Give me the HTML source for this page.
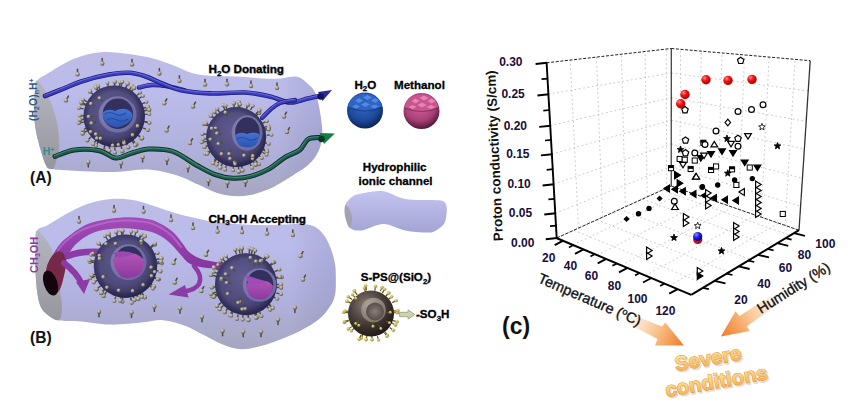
<!DOCTYPE html>
<html><head><meta charset="utf-8"><style>
html,body{margin:0;padding:0;background:#fff;width:852px;height:414px;overflow:hidden}
svg{display:block}
</style></head><body>
<svg width="852" height="414" viewBox="0 0 852 414">
<rect width="852" height="414" fill="#fff"/>
<defs>
 <linearGradient id="tubeG" x1="0" y1="50" x2="0" y2="196" gradientUnits="userSpaceOnUse">
  <stop offset="0" stop-color="#bcbce6"/>
  <stop offset="0.3" stop-color="#bcbcec"/>
  <stop offset="0.7" stop-color="#b0b0dc"/>
  <stop offset="1" stop-color="#a6a6c0"/>
 </linearGradient>
 <linearGradient id="tubeG2" x1="0" y1="198" x2="0" y2="350" gradientUnits="userSpaceOnUse">
  <stop offset="0" stop-color="#bcbce6"/>
  <stop offset="0.3" stop-color="#bcbcec"/>
  <stop offset="0.7" stop-color="#b0b0dc"/>
  <stop offset="1" stop-color="#a6a6c0"/>
 </linearGradient>
 <linearGradient id="tubeShade" x1="0" y1="0" x2="1" y2="0">
  <stop offset="0" stop-color="#000" stop-opacity="0"/>
  <stop offset="0.85" stop-color="#000" stop-opacity="0"/>
  <stop offset="1" stop-color="#404070" stop-opacity="0.12"/>
 </linearGradient>
 <linearGradient id="tubeShade2" x1="0" y1="0" x2="1" y2="0">
  <stop offset="0" stop-color="#000" stop-opacity="0"/>
  <stop offset="0.85" stop-color="#000" stop-opacity="0"/>
  <stop offset="1" stop-color="#404070" stop-opacity="0.12"/>
 </linearGradient>
 <linearGradient id="capG" x1="0" y1="0" x2="0" y2="1">
  <stop offset="0" stop-color="#b6b6c2"/>
  <stop offset="1" stop-color="#96969e"/>
 </linearGradient>
 <radialGradient id="sphG" cx="0.45" cy="0.4" r="0.62">
  <stop offset="0" stop-color="#625c8e"/>
  <stop offset="0.65" stop-color="#4e4a7c"/>
  <stop offset="1" stop-color="#2e2a54"/>
 </radialGradient>
 <radialGradient id="sphRim" cx="0.5" cy="0.5" r="0.5">
  <stop offset="0.8" stop-color="#000" stop-opacity="0"/>
  <stop offset="1" stop-color="#1a1840" stop-opacity="0.35"/>
 </radialGradient>
 <radialGradient id="holeRim" cx="0.4" cy="0.45" r="0.6">
  <stop offset="0" stop-color="#9894c2"/>
  <stop offset="1" stop-color="#6a66a0"/>
 </radialGradient>
 <linearGradient id="waterG" x1="0" y1="0" x2="0" y2="1">
  <stop offset="0" stop-color="#4474d4"/>
  <stop offset="1" stop-color="#2c52b0"/>
 </linearGradient>
 <linearGradient id="methG" x1="0" y1="0" x2="0" y2="1">
  <stop offset="0" stop-color="#b454b8"/>
  <stop offset="1" stop-color="#8a3a9c"/>
 </linearGradient>
 <linearGradient id="purpG" x1="0" y1="0" x2="0" y2="1">
  <stop offset="0" stop-color="#a24cb8"/>
  <stop offset="1" stop-color="#7a2c94"/>
 </linearGradient>
 <radialGradient id="spsG" cx="0.4" cy="0.32" r="0.72">
  <stop offset="0" stop-color="#8a7e78"/>
  <stop offset="0.5" stop-color="#4a403c"/>
  <stop offset="1" stop-color="#1c1614"/>
 </radialGradient>
 <radialGradient id="spsHole" cx="0.35" cy="0.3" r="0.8">
  <stop offset="0" stop-color="#b0a69e"/>
  <stop offset="1" stop-color="#7a6e66"/>
 </radialGradient>
 <radialGradient id="spsIn" cx="0.5" cy="0.5" r="0.6">
  <stop offset="0" stop-color="#8a7e76"/>
  <stop offset="1" stop-color="#4e443e"/>
 </radialGradient>
 <radialGradient id="blueBall" cx="0.45" cy="0.35" r="0.7">
  <stop offset="0" stop-color="#3468c8"/>
  <stop offset="0.6" stop-color="#1e4a9c"/>
  <stop offset="1" stop-color="#081c48"/>
 </radialGradient>
 <radialGradient id="pinkBall" cx="0.45" cy="0.35" r="0.7">
  <stop offset="0" stop-color="#d8609a"/>
  <stop offset="0.6" stop-color="#a84078"/>
  <stop offset="1" stop-color="#3e0e26"/>
 </radialGradient>
 <radialGradient id="nubG" cx="0.35" cy="0.3" r="0.7">
  <stop offset="0" stop-color="#d6d2c4"/>
  <stop offset="0.5" stop-color="#a8a290"/>
  <stop offset="1" stop-color="#545044"/>
 </radialGradient>
 <radialGradient id="ynubG" cx="0.35" cy="0.3" r="0.7">
  <stop offset="0" stop-color="#f4ec98"/>
  <stop offset="1" stop-color="#9a8a30"/>
 </radialGradient>
 <radialGradient id="redG" cx="0.35" cy="0.3" r="0.7">
  <stop offset="0" stop-color="#ff8a8a"/>
  <stop offset="0.45" stop-color="#f01414"/>
  <stop offset="1" stop-color="#b00000"/>
 </radialGradient>
 <radialGradient id="bluG" cx="0.35" cy="0.3" r="0.7">
  <stop offset="0" stop-color="#8a8aff"/>
  <stop offset="0.5" stop-color="#1c1ce8"/>
  <stop offset="1" stop-color="#0000a0"/>
 </radialGradient>
 <linearGradient id="orG1" x1="630" y1="318" x2="684" y2="345" gradientUnits="userSpaceOnUse">
  <stop offset="0" stop-color="#fff6ee"/>
  <stop offset="0.45" stop-color="#f9c898"/>
  <stop offset="1" stop-color="#f07c24"/>
 </linearGradient>
 <linearGradient id="orG2" x1="775" y1="300" x2="721" y2="336" gradientUnits="userSpaceOnUse">
  <stop offset="0" stop-color="#fff6ee"/>
  <stop offset="0.45" stop-color="#f9c898"/>
  <stop offset="1" stop-color="#f07c24"/>
 </linearGradient>
 <linearGradient id="sevG" x1="0" y1="0" x2="0" y2="1">
  <stop offset="0" stop-color="#fff0b4"/>
  <stop offset="0.5" stop-color="#fbcf78"/>
  <stop offset="1" stop-color="#f2a648"/>
 </linearGradient>
 <linearGradient id="miniG" x1="0" y1="190" x2="0" y2="233" gradientUnits="userSpaceOnUse">
  <stop offset="0" stop-color="#c4c4f0"/>
  <stop offset="1" stop-color="#a4a4d4"/>
 </linearGradient>
</defs>

<path d="M37.0,80.5 C39.1,77.8 42.9,76.4 47.6,73.5 C52.3,70.6 59.3,65.8 65.2,62.9 C71.1,59.9 76.9,57.6 82.8,55.8 C88.7,54.0 94.5,52.8 100.4,52.3 C106.3,51.8 112.1,52.2 118.0,52.7 C123.9,53.2 129.7,54.0 135.6,55.0 C141.5,56.0 146.6,56.7 153.2,58.5 C159.8,60.3 168.4,63.5 175.0,66.0 C181.6,68.5 186.7,71.6 192.6,73.2 C198.5,74.8 204.3,75.3 210.2,75.8 C216.1,76.3 221.9,76.1 227.8,76.3 C233.7,76.5 239.5,76.6 245.4,77.0 C251.3,77.4 257.1,78.2 263.0,78.5 C268.9,78.8 274.9,78.8 280.6,78.5 C286.3,78.2 292.6,75.9 297.2,76.8 C301.8,77.7 305.0,81.3 308.0,84.0 C311.0,86.7 313.4,88.5 315.4,93.0 C317.4,97.5 318.8,105.0 319.9,111.2 C321.0,117.4 322.0,124.9 322.2,130.0 C322.4,135.1 321.9,138.6 321.3,142.0 C320.7,145.4 320.1,147.6 318.8,150.4 C317.5,153.2 315.9,156.1 313.7,158.9 C311.4,161.7 308.4,164.8 305.3,167.3 C302.2,169.8 298.3,171.9 295.0,174.0 C291.7,176.1 290.1,177.4 285.6,180.0 C281.1,182.6 273.9,187.1 268.0,189.6 C262.1,192.1 256.3,193.8 250.4,194.9 C244.5,196.0 238.7,196.5 232.8,196.1 C226.9,195.7 221.1,194.3 215.2,192.3 C209.3,190.3 203.5,187.0 197.6,184.3 C191.7,181.7 188.2,178.9 180.0,176.4 C171.8,173.9 159.3,170.3 148.6,169.6 C137.9,168.9 126.7,171.7 115.7,172.0 C104.8,172.3 93.5,171.7 82.9,171.2 C72.3,170.7 58.3,170.2 52.0,169.0 C45.7,167.8 47.9,169.7 45.3,163.8 C42.7,157.9 38.3,142.4 36.4,133.4 C34.5,124.4 34.2,117.2 34.0,110.0 C33.8,102.8 34.5,94.9 35.0,90.0 C35.5,85.1 34.9,83.2 37.0,80.5Z" fill="url(#tubeG)"/>
<path d="M37.0,80.5 C39.1,77.8 42.9,76.4 47.6,73.5 C52.3,70.6 59.3,65.8 65.2,62.9 C71.1,59.9 76.9,57.6 82.8,55.8 C88.7,54.0 94.5,52.8 100.4,52.3 C106.3,51.8 112.1,52.2 118.0,52.7 C123.9,53.2 129.7,54.0 135.6,55.0 C141.5,56.0 146.6,56.7 153.2,58.5 C159.8,60.3 168.4,63.5 175.0,66.0 C181.6,68.5 186.7,71.6 192.6,73.2 C198.5,74.8 204.3,75.3 210.2,75.8 C216.1,76.3 221.9,76.1 227.8,76.3 C233.7,76.5 239.5,76.6 245.4,77.0 C251.3,77.4 257.1,78.2 263.0,78.5 C268.9,78.8 274.9,78.8 280.6,78.5 C286.3,78.2 292.6,75.9 297.2,76.8 C301.8,77.7 305.0,81.3 308.0,84.0 C311.0,86.7 313.4,88.5 315.4,93.0 C317.4,97.5 318.8,105.0 319.9,111.2 C321.0,117.4 322.0,124.9 322.2,130.0 C322.4,135.1 321.9,138.6 321.3,142.0 C320.7,145.4 320.1,147.6 318.8,150.4 C317.5,153.2 315.9,156.1 313.7,158.9 C311.4,161.7 308.4,164.8 305.3,167.3 C302.2,169.8 298.3,171.9 295.0,174.0 C291.7,176.1 290.1,177.4 285.6,180.0 C281.1,182.6 273.9,187.1 268.0,189.6 C262.1,192.1 256.3,193.8 250.4,194.9 C244.5,196.0 238.7,196.5 232.8,196.1 C226.9,195.7 221.1,194.3 215.2,192.3 C209.3,190.3 203.5,187.0 197.6,184.3 C191.7,181.7 188.2,178.9 180.0,176.4 C171.8,173.9 159.3,170.3 148.6,169.6 C137.9,168.9 126.7,171.7 115.7,172.0 C104.8,172.3 93.5,171.7 82.9,171.2 C72.3,170.7 58.3,170.2 52.0,169.0 C45.7,167.8 47.9,169.7 45.3,163.8 C42.7,157.9 38.3,142.4 36.4,133.4 C34.5,124.4 34.2,117.2 34.0,110.0 C33.8,102.8 34.5,94.9 35.0,90.0 C35.5,85.1 34.9,83.2 37.0,80.5Z" fill="url(#tubeShade)"/>
<path d="M37.0,80.5 C39.1,81.4 44.5,88.7 47.8,95.4 C51.1,102.1 54.8,112.3 56.7,120.7 C58.6,129.1 59.4,138.8 59.2,146.0 C59.0,153.2 56.6,160.0 55.4,163.8 C54.2,167.6 53.7,169.0 52.0,169.0 C50.3,169.0 47.9,169.7 45.3,163.8 C42.7,157.9 38.3,142.4 36.4,133.4 C34.5,124.4 34.2,117.2 34.0,110.0 C33.8,102.8 34.5,94.9 35.0,90.0 C35.5,85.1 34.9,79.6 37.0,80.5Z" fill="url(#capG)"/>
<path d="M37.0,230.5 C39.0,226.9 42.9,227.8 47.6,225.2 C52.3,222.5 59.3,217.8 65.2,214.6 C71.1,211.4 76.9,208.1 82.8,205.8 C88.7,203.5 94.5,201.8 100.4,200.6 C106.3,199.4 112.1,198.8 118.0,198.8 C123.9,198.8 129.7,199.4 135.6,200.6 C141.5,201.8 146.6,203.7 153.2,205.8 C159.8,207.9 168.0,211.0 175.0,213.0 C182.0,215.0 188.3,216.5 195.0,218.0 C201.7,219.5 208.3,221.0 215.0,222.0 C221.7,223.0 228.4,223.5 235.0,224.0 C241.6,224.5 248.2,224.8 254.8,225.0 C261.4,225.2 268.1,225.2 274.8,225.0 C281.5,224.8 288.9,224.0 294.8,224.0 C300.7,224.0 306.0,224.2 310.0,225.1 C314.0,226.0 316.1,227.3 318.8,229.5 C321.5,231.7 323.9,234.8 326.0,238.2 C328.1,241.6 329.7,245.7 331.2,249.8 C332.7,253.9 334.0,258.4 334.8,262.8 C335.6,267.2 335.8,270.6 335.8,276.0 C335.8,281.4 336.1,289.7 335.0,295.0 C333.9,300.3 331.8,303.8 329.0,308.0 C326.2,312.2 323.2,316.0 318.0,320.0 C312.8,324.0 304.5,328.7 298.0,332.0 C291.5,335.3 285.3,337.6 279.0,340.0 C272.7,342.4 266.3,344.8 260.0,346.3 C253.7,347.8 247.5,349.5 241.3,349.2 C235.1,348.9 228.8,346.9 222.6,344.5 C216.3,342.1 210.1,338.1 203.8,335.0 C197.5,331.9 191.8,328.2 185.0,325.7 C178.2,323.2 169.8,320.8 163.2,320.2 C156.6,319.6 151.5,321.4 145.6,322.0 C139.7,322.6 133.9,323.4 128.0,323.8 C122.1,324.2 116.3,324.8 110.4,324.6 C104.5,324.5 98.7,323.5 92.8,322.9 C86.9,322.3 81.1,321.6 75.2,321.1 C69.3,320.7 62.0,321.1 57.6,320.2 C53.2,319.3 51.7,318.3 48.8,315.8 C45.9,313.3 42.1,311.0 40.0,305.0 C37.9,299.0 36.7,289.7 36.0,280.0 C35.3,270.3 35.4,254.8 35.6,246.6 C35.8,238.3 35.0,234.1 37.0,230.5Z" fill="url(#tubeG2)"/>
<path d="M37.0,230.5 C39.0,226.9 42.9,227.8 47.6,225.2 C52.3,222.5 59.3,217.8 65.2,214.6 C71.1,211.4 76.9,208.1 82.8,205.8 C88.7,203.5 94.5,201.8 100.4,200.6 C106.3,199.4 112.1,198.8 118.0,198.8 C123.9,198.8 129.7,199.4 135.6,200.6 C141.5,201.8 146.6,203.7 153.2,205.8 C159.8,207.9 168.0,211.0 175.0,213.0 C182.0,215.0 188.3,216.5 195.0,218.0 C201.7,219.5 208.3,221.0 215.0,222.0 C221.7,223.0 228.4,223.5 235.0,224.0 C241.6,224.5 248.2,224.8 254.8,225.0 C261.4,225.2 268.1,225.2 274.8,225.0 C281.5,224.8 288.9,224.0 294.8,224.0 C300.7,224.0 306.0,224.2 310.0,225.1 C314.0,226.0 316.1,227.3 318.8,229.5 C321.5,231.7 323.9,234.8 326.0,238.2 C328.1,241.6 329.7,245.7 331.2,249.8 C332.7,253.9 334.0,258.4 334.8,262.8 C335.6,267.2 335.8,270.6 335.8,276.0 C335.8,281.4 336.1,289.7 335.0,295.0 C333.9,300.3 331.8,303.8 329.0,308.0 C326.2,312.2 323.2,316.0 318.0,320.0 C312.8,324.0 304.5,328.7 298.0,332.0 C291.5,335.3 285.3,337.6 279.0,340.0 C272.7,342.4 266.3,344.8 260.0,346.3 C253.7,347.8 247.5,349.5 241.3,349.2 C235.1,348.9 228.8,346.9 222.6,344.5 C216.3,342.1 210.1,338.1 203.8,335.0 C197.5,331.9 191.8,328.2 185.0,325.7 C178.2,323.2 169.8,320.8 163.2,320.2 C156.6,319.6 151.5,321.4 145.6,322.0 C139.7,322.6 133.9,323.4 128.0,323.8 C122.1,324.2 116.3,324.8 110.4,324.6 C104.5,324.5 98.7,323.5 92.8,322.9 C86.9,322.3 81.1,321.6 75.2,321.1 C69.3,320.7 62.0,321.1 57.6,320.2 C53.2,319.3 51.7,318.3 48.8,315.8 C45.9,313.3 42.1,311.0 40.0,305.0 C37.9,299.0 36.7,289.7 36.0,280.0 C35.3,270.3 35.4,254.8 35.6,246.6 C35.8,238.3 35.0,234.1 37.0,230.5Z" fill="url(#tubeShade2)"/>
<path d="M37.0,230.5 C39.2,230.1 45.7,238.2 49.0,244.0 C52.3,249.8 55.2,257.3 57.0,265.0 C58.8,272.7 59.2,282.5 60.0,290.0 C60.8,297.5 62.2,305.0 62.0,310.0 C61.8,315.0 60.7,319.0 58.5,320.0 C56.3,321.0 51.9,318.3 48.8,315.8 C45.7,313.3 42.1,311.0 40.0,305.0 C37.9,299.0 36.7,289.7 36.0,280.0 C35.3,270.3 35.4,254.8 35.6,246.6 C35.8,238.3 34.8,230.9 37.0,230.5Z" fill="url(#capG)"/>
<path d="M345.5,205.0 C346.5,201.5 349.3,198.9 352.0,197.0 C354.7,195.1 356.4,194.4 361.7,193.5 C366.9,192.6 376.3,190.4 383.5,191.3 C390.7,192.2 397.1,197.6 405.0,199.0 C412.9,200.4 424.7,199.7 431.0,200.0 C437.3,200.3 440.4,200.0 443.0,201.0 C445.6,202.0 445.9,203.8 446.5,206.0 C447.1,208.2 446.9,211.0 446.5,214.0 C446.1,217.0 445.9,221.2 444.0,224.0 C442.1,226.8 437.8,229.6 435.0,231.0 C432.2,232.4 432.0,232.7 427.0,232.6 C422.0,232.5 412.2,231.8 405.0,230.4 C397.8,229.0 390.7,224.0 383.5,224.0 C376.3,224.0 367.3,229.7 361.7,230.4 C356.1,231.1 352.6,230.1 350.0,228.0 C347.4,225.9 346.8,221.8 346.0,218.0 C345.2,214.2 344.5,208.5 345.5,205.0Z" fill="url(#miniG)"/>
<path d="M345.5,205.0 C346.4,204.7 348.9,207.8 350.0,210.0 C351.1,212.2 352.0,215.0 352.0,218.0 C352.0,221.0 351.0,227.7 350.0,228.0 C349.0,228.3 346.9,222.7 346.0,220.0 C345.1,217.3 344.6,214.5 344.5,212.0 C344.4,209.5 344.6,205.3 345.5,205.0Z" fill="#a2a2b2"/>
<line x1="77.5" y1="74.3" x2="77.5" y2="69.3" stroke="#4e4a3e" stroke-width="1.5" stroke-linecap="round"/><circle cx="77.5" cy="74.3" r="2.2" fill="url(#nubG)"/>
<line x1="102.2" y1="63.5" x2="102.2" y2="58.5" stroke="#4e4a3e" stroke-width="1.5" stroke-linecap="round"/><circle cx="102.2" cy="63.5" r="2.2" fill="url(#nubG)"/>
<line x1="132.0" y1="64.4" x2="132.0" y2="59.4" stroke="#4e4a3e" stroke-width="1.5" stroke-linecap="round"/><circle cx="132.0" cy="64.4" r="2.2" fill="url(#nubG)"/>
<line x1="159.4" y1="73.5" x2="159.4" y2="68.5" stroke="#4e4a3e" stroke-width="1.5" stroke-linecap="round"/><circle cx="159.4" cy="73.5" r="2.2" fill="url(#nubG)"/>
<line x1="179.4" y1="80.8" x2="179.4" y2="75.8" stroke="#4e4a3e" stroke-width="1.5" stroke-linecap="round"/><circle cx="179.4" cy="80.8" r="2.2" fill="url(#nubG)"/>
<line x1="205.0" y1="84.5" x2="205.0" y2="79.5" stroke="#4e4a3e" stroke-width="1.5" stroke-linecap="round"/><circle cx="205.0" cy="84.5" r="2.2" fill="url(#nubG)"/>
<line x1="227.0" y1="84.3" x2="227.0" y2="79.3" stroke="#4e4a3e" stroke-width="1.5" stroke-linecap="round"/><circle cx="227.0" cy="84.3" r="2.2" fill="url(#nubG)"/>
<line x1="251.0" y1="86.0" x2="251.0" y2="81.0" stroke="#4e4a3e" stroke-width="1.5" stroke-linecap="round"/><circle cx="251.0" cy="86.0" r="2.2" fill="url(#nubG)"/>
<line x1="277.0" y1="87.9" x2="277.0" y2="82.9" stroke="#4e4a3e" stroke-width="1.5" stroke-linecap="round"/><circle cx="277.0" cy="87.9" r="2.2" fill="url(#nubG)"/>
<line x1="65.9" y1="100.4" x2="68.4" y2="96.1" stroke="#4e4a3e" stroke-width="1.5" stroke-linecap="round"/><circle cx="65.9" cy="100.4" r="2.2" fill="url(#nubG)"/>
<line x1="164.3" y1="103.3" x2="166.8" y2="99.0" stroke="#4e4a3e" stroke-width="1.5" stroke-linecap="round"/><circle cx="164.3" cy="103.3" r="2.2" fill="url(#nubG)"/>
<line x1="193.0" y1="106.5" x2="195.5" y2="102.2" stroke="#4e4a3e" stroke-width="1.5" stroke-linecap="round"/><circle cx="193.0" cy="106.5" r="2.2" fill="url(#nubG)"/>
<line x1="284.0" y1="116.5" x2="286.5" y2="112.2" stroke="#4e4a3e" stroke-width="1.5" stroke-linecap="round"/><circle cx="284.0" cy="116.5" r="2.2" fill="url(#nubG)"/>
<line x1="287.0" y1="132.0" x2="289.5" y2="127.7" stroke="#4e4a3e" stroke-width="1.5" stroke-linecap="round"/><circle cx="287.0" cy="132.0" r="2.2" fill="url(#nubG)"/>
<line x1="166.6" y1="130.4" x2="169.1" y2="126.1" stroke="#4e4a3e" stroke-width="1.5" stroke-linecap="round"/><circle cx="166.6" cy="130.4" r="2.2" fill="url(#nubG)"/>
<line x1="190.0" y1="143.0" x2="192.5" y2="138.7" stroke="#4e4a3e" stroke-width="1.5" stroke-linecap="round"/><circle cx="190.0" cy="143.0" r="2.2" fill="url(#nubG)"/>
<line x1="88.3" y1="162.0" x2="88.3" y2="167.0" stroke="#4e4a3e" stroke-width="1.5" stroke-linecap="round"/><circle cx="88.3" cy="162.0" r="2.2" fill="url(#nubG)"/>
<line x1="121.0" y1="163.0" x2="121.0" y2="168.0" stroke="#4e4a3e" stroke-width="1.5" stroke-linecap="round"/><circle cx="121.0" cy="163.0" r="2.2" fill="url(#nubG)"/>
<line x1="142.6" y1="157.0" x2="142.6" y2="162.0" stroke="#4e4a3e" stroke-width="1.5" stroke-linecap="round"/><circle cx="142.6" cy="157.0" r="2.2" fill="url(#nubG)"/>
<line x1="167.0" y1="159.5" x2="167.0" y2="164.5" stroke="#4e4a3e" stroke-width="1.5" stroke-linecap="round"/><circle cx="167.0" cy="159.5" r="2.2" fill="url(#nubG)"/>
<line x1="188.0" y1="167.0" x2="188.0" y2="172.0" stroke="#4e4a3e" stroke-width="1.5" stroke-linecap="round"/><circle cx="188.0" cy="167.0" r="2.2" fill="url(#nubG)"/>
<line x1="208.5" y1="180.5" x2="208.5" y2="185.5" stroke="#4e4a3e" stroke-width="1.5" stroke-linecap="round"/><circle cx="208.5" cy="180.5" r="2.2" fill="url(#nubG)"/>
<line x1="227.5" y1="182.5" x2="227.5" y2="187.5" stroke="#4e4a3e" stroke-width="1.5" stroke-linecap="round"/><circle cx="227.5" cy="182.5" r="2.2" fill="url(#nubG)"/>
<line x1="245.5" y1="181.5" x2="245.5" y2="186.5" stroke="#4e4a3e" stroke-width="1.5" stroke-linecap="round"/><circle cx="245.5" cy="181.5" r="2.2" fill="url(#nubG)"/>
<line x1="79.0" y1="221.5" x2="79.0" y2="216.5" stroke="#4e4a3e" stroke-width="1.5" stroke-linecap="round"/><circle cx="79.0" cy="221.5" r="2.2" fill="url(#nubG)"/>
<line x1="114.0" y1="210.5" x2="114.0" y2="205.5" stroke="#4e4a3e" stroke-width="1.5" stroke-linecap="round"/><circle cx="114.0" cy="210.5" r="2.2" fill="url(#nubG)"/>
<line x1="143.5" y1="211.5" x2="143.5" y2="206.5" stroke="#4e4a3e" stroke-width="1.5" stroke-linecap="round"/><circle cx="143.5" cy="211.5" r="2.2" fill="url(#nubG)"/>
<line x1="171.0" y1="220.0" x2="171.0" y2="215.0" stroke="#4e4a3e" stroke-width="1.5" stroke-linecap="round"/><circle cx="171.0" cy="220.0" r="2.2" fill="url(#nubG)"/>
<line x1="193.0" y1="228.0" x2="193.0" y2="223.0" stroke="#4e4a3e" stroke-width="1.5" stroke-linecap="round"/><circle cx="193.0" cy="228.0" r="2.2" fill="url(#nubG)"/>
<line x1="217.5" y1="231.5" x2="217.5" y2="226.5" stroke="#4e4a3e" stroke-width="1.5" stroke-linecap="round"/><circle cx="217.5" cy="231.5" r="2.2" fill="url(#nubG)"/>
<line x1="242.0" y1="232.0" x2="242.0" y2="227.0" stroke="#4e4a3e" stroke-width="1.5" stroke-linecap="round"/><circle cx="242.0" cy="232.0" r="2.2" fill="url(#nubG)"/>
<line x1="267.0" y1="233.5" x2="267.0" y2="228.5" stroke="#4e4a3e" stroke-width="1.5" stroke-linecap="round"/><circle cx="267.0" cy="233.5" r="2.2" fill="url(#nubG)"/>
<line x1="292.8" y1="235.0" x2="292.8" y2="230.0" stroke="#4e4a3e" stroke-width="1.5" stroke-linecap="round"/><circle cx="292.8" cy="235.0" r="2.2" fill="url(#nubG)"/>
<line x1="206.0" y1="254.7" x2="208.5" y2="250.4" stroke="#4e4a3e" stroke-width="1.5" stroke-linecap="round"/><circle cx="206.0" cy="254.7" r="2.2" fill="url(#nubG)"/>
<line x1="173.5" y1="263.0" x2="176.0" y2="258.7" stroke="#4e4a3e" stroke-width="1.5" stroke-linecap="round"/><circle cx="173.5" cy="263.0" r="2.2" fill="url(#nubG)"/>
<line x1="174.7" y1="282.5" x2="177.2" y2="278.2" stroke="#4e4a3e" stroke-width="1.5" stroke-linecap="round"/><circle cx="174.7" cy="282.5" r="2.2" fill="url(#nubG)"/>
<line x1="201.3" y1="291.0" x2="203.8" y2="286.7" stroke="#4e4a3e" stroke-width="1.5" stroke-linecap="round"/><circle cx="201.3" cy="291.0" r="2.2" fill="url(#nubG)"/>
<line x1="300.5" y1="256.0" x2="303.0" y2="251.7" stroke="#4e4a3e" stroke-width="1.5" stroke-linecap="round"/><circle cx="300.5" cy="256.0" r="2.2" fill="url(#nubG)"/>
<line x1="303.0" y1="279.5" x2="305.5" y2="275.2" stroke="#4e4a3e" stroke-width="1.5" stroke-linecap="round"/><circle cx="303.0" cy="279.5" r="2.2" fill="url(#nubG)"/>
<line x1="99.0" y1="311.7" x2="99.0" y2="316.7" stroke="#4e4a3e" stroke-width="1.5" stroke-linecap="round"/><circle cx="99.0" cy="311.7" r="2.2" fill="url(#nubG)"/>
<line x1="131.5" y1="312.5" x2="131.5" y2="317.5" stroke="#4e4a3e" stroke-width="1.5" stroke-linecap="round"/><circle cx="131.5" cy="312.5" r="2.2" fill="url(#nubG)"/>
<line x1="154.4" y1="306.5" x2="154.4" y2="311.5" stroke="#4e4a3e" stroke-width="1.5" stroke-linecap="round"/><circle cx="154.4" cy="306.5" r="2.2" fill="url(#nubG)"/>
<line x1="180.0" y1="308.2" x2="180.0" y2="313.2" stroke="#4e4a3e" stroke-width="1.5" stroke-linecap="round"/><circle cx="180.0" cy="308.2" r="2.2" fill="url(#nubG)"/>
<line x1="202.0" y1="316.7" x2="202.0" y2="321.7" stroke="#4e4a3e" stroke-width="1.5" stroke-linecap="round"/><circle cx="202.0" cy="316.7" r="2.2" fill="url(#nubG)"/>
<line x1="222.6" y1="330.8" x2="222.6" y2="335.8" stroke="#4e4a3e" stroke-width="1.5" stroke-linecap="round"/><circle cx="222.6" cy="330.8" r="2.2" fill="url(#nubG)"/>
<line x1="243.2" y1="331.7" x2="243.2" y2="336.7" stroke="#4e4a3e" stroke-width="1.5" stroke-linecap="round"/><circle cx="243.2" cy="331.7" r="2.2" fill="url(#nubG)"/>
<line x1="261.0" y1="331.7" x2="261.0" y2="336.7" stroke="#4e4a3e" stroke-width="1.5" stroke-linecap="round"/><circle cx="261.0" cy="331.7" r="2.2" fill="url(#nubG)"/>
<line x1="278.0" y1="319.5" x2="278.0" y2="324.5" stroke="#4e4a3e" stroke-width="1.5" stroke-linecap="round"/><circle cx="278.0" cy="319.5" r="2.2" fill="url(#nubG)"/>
<line x1="294.9" y1="307.5" x2="294.9" y2="312.5" stroke="#4e4a3e" stroke-width="1.5" stroke-linecap="round"/><circle cx="294.9" cy="307.5" r="2.2" fill="url(#nubG)"/>
<path d="M139.0,87.5 C141.2,87.1 147.5,85.2 152.0,85.0 C156.5,84.8 160.5,85.1 166.0,86.0 C171.5,86.9 181.8,89.8 185.0,90.5" fill="none" stroke="#1e1e78" stroke-width="4.6" stroke-linecap="round" stroke-linejoin="round"/><path d="M139.0,87.5 C141.2,87.1 147.5,85.2 152.0,85.0 C156.5,84.8 160.5,85.1 166.0,86.0 C171.5,86.9 181.8,89.8 185.0,90.5" fill="none" stroke="#3c3cc0" stroke-width="2.9" stroke-linecap="round"/><path d="M139.0,87.5 C141.2,87.1 147.5,85.2 152.0,85.0 C156.5,84.8 160.5,85.1 166.0,86.0 C171.5,86.9 181.8,89.8 185.0,90.5" fill="none" stroke="#6a6ae6" stroke-width="1.0" stroke-linecap="round" transform="translate(-0.4,-0.9)"/>
<path d="M45.0,96.0 C47.5,95.0 53.7,92.5 60.0,90.0 C66.3,87.5 74.8,83.6 83.0,81.0 C91.2,78.4 101.4,76.0 109.0,74.6 C116.6,73.2 122.7,72.6 128.6,72.8 C134.5,73.0 138.8,74.2 144.4,76.0 C150.0,77.8 156.1,81.2 162.0,83.5 C167.9,85.8 172.0,88.3 180.0,90.0 C188.0,91.7 199.2,93.0 210.0,93.4 C220.8,93.8 235.0,92.0 245.0,92.5 C255.0,93.0 262.5,94.8 270.0,96.5 C277.5,98.2 283.7,102.2 290.0,102.5 C296.3,102.8 302.8,99.6 308.0,98.5 C313.2,97.4 318.8,96.2 321.0,95.8" fill="none" stroke="#1e1e78" stroke-width="4.6" stroke-linecap="round" stroke-linejoin="round"/><path d="M45.0,96.0 C47.5,95.0 53.7,92.5 60.0,90.0 C66.3,87.5 74.8,83.6 83.0,81.0 C91.2,78.4 101.4,76.0 109.0,74.6 C116.6,73.2 122.7,72.6 128.6,72.8 C134.5,73.0 138.8,74.2 144.4,76.0 C150.0,77.8 156.1,81.2 162.0,83.5 C167.9,85.8 172.0,88.3 180.0,90.0 C188.0,91.7 199.2,93.0 210.0,93.4 C220.8,93.8 235.0,92.0 245.0,92.5 C255.0,93.0 262.5,94.8 270.0,96.5 C277.5,98.2 283.7,102.2 290.0,102.5 C296.3,102.8 302.8,99.6 308.0,98.5 C313.2,97.4 318.8,96.2 321.0,95.8" fill="none" stroke="#3c3cc0" stroke-width="2.9" stroke-linecap="round"/><path d="M45.0,96.0 C47.5,95.0 53.7,92.5 60.0,90.0 C66.3,87.5 74.8,83.6 83.0,81.0 C91.2,78.4 101.4,76.0 109.0,74.6 C116.6,73.2 122.7,72.6 128.6,72.8 C134.5,73.0 138.8,74.2 144.4,76.0 C150.0,77.8 156.1,81.2 162.0,83.5 C167.9,85.8 172.0,88.3 180.0,90.0 C188.0,91.7 199.2,93.0 210.0,93.4 C220.8,93.8 235.0,92.0 245.0,92.5 C255.0,93.0 262.5,94.8 270.0,96.5 C277.5,98.2 283.7,102.2 290.0,102.5 C296.3,102.8 302.8,99.6 308.0,98.5 C313.2,97.4 318.8,96.2 321.0,95.8" fill="none" stroke="#6a6ae6" stroke-width="1.0" stroke-linecap="round" transform="translate(-0.4,-0.9)"/>
<line x1="149.3" y1="114.1" x2="144.7" y2="114.4" stroke="#4e4a3e" stroke-width="1.4" stroke-linecap="round"/><circle cx="149.3" cy="114.1" r="2.0" fill="url(#nubG)"/>
<line x1="149.0" y1="122.4" x2="144.8" y2="121.7" stroke="#4e4a3e" stroke-width="1.3" stroke-linecap="round"/><circle cx="149.0" cy="122.4" r="1.9" fill="url(#nubG)"/>
<line x1="149.5" y1="122.8" x2="145.1" y2="122.0" stroke="#4e4a3e" stroke-width="1.4" stroke-linecap="round"/><circle cx="149.5" cy="122.8" r="2.0" fill="url(#nubG)"/>
<line x1="147.8" y1="129.9" x2="143.5" y2="128.2" stroke="#4e4a3e" stroke-width="1.4" stroke-linecap="round"/><circle cx="147.8" cy="129.9" r="2.1" fill="url(#nubG)"/>
<line x1="141.4" y1="138.3" x2="137.6" y2="135.2" stroke="#4e4a3e" stroke-width="1.5" stroke-linecap="round"/><circle cx="141.4" cy="138.3" r="2.2" fill="url(#nubG)"/>
<line x1="142.1" y1="138.1" x2="138.0" y2="135.0" stroke="#4e4a3e" stroke-width="1.5" stroke-linecap="round"/><circle cx="142.1" cy="138.1" r="2.3" fill="url(#nubG)"/>
<line x1="136.3" y1="144.3" x2="133.2" y2="140.4" stroke="#4e4a3e" stroke-width="1.5" stroke-linecap="round"/><circle cx="136.3" cy="144.3" r="2.2" fill="url(#nubG)"/>
<line x1="135.2" y1="145.2" x2="132.3" y2="141.3" stroke="#4e4a3e" stroke-width="1.5" stroke-linecap="round"/><circle cx="135.2" cy="145.2" r="2.1" fill="url(#nubG)"/>
<line x1="128.1" y1="147.2" x2="126.0" y2="142.5" stroke="#4e4a3e" stroke-width="1.5" stroke-linecap="round"/><circle cx="128.1" cy="147.2" r="2.3" fill="url(#nubG)"/>
<line x1="122.3" y1="151.0" x2="121.2" y2="146.0" stroke="#4e4a3e" stroke-width="1.5" stroke-linecap="round"/><circle cx="122.3" cy="151.0" r="2.3" fill="url(#nubG)"/>
<line x1="115.0" y1="152.4" x2="114.9" y2="147.7" stroke="#4e4a3e" stroke-width="1.4" stroke-linecap="round"/><circle cx="115.0" cy="152.4" r="2.0" fill="url(#nubG)"/>
<line x1="109.1" y1="150.8" x2="109.8" y2="145.7" stroke="#4e4a3e" stroke-width="1.6" stroke-linecap="round"/><circle cx="109.1" cy="150.8" r="2.3" fill="url(#nubG)"/>
<line x1="103.6" y1="148.7" x2="105.0" y2="144.5" stroke="#4e4a3e" stroke-width="1.3" stroke-linecap="round"/><circle cx="103.6" cy="148.7" r="1.9" fill="url(#nubG)"/>
<line x1="103.3" y1="150.8" x2="104.7" y2="146.4" stroke="#4e4a3e" stroke-width="1.4" stroke-linecap="round"/><circle cx="103.3" cy="150.8" r="2.1" fill="url(#nubG)"/>
<line x1="96.0" y1="145.7" x2="98.5" y2="141.6" stroke="#4e4a3e" stroke-width="1.4" stroke-linecap="round"/><circle cx="96.0" cy="145.7" r="2.1" fill="url(#nubG)"/>
<line x1="93.3" y1="144.0" x2="96.2" y2="140.1" stroke="#4e4a3e" stroke-width="1.5" stroke-linecap="round"/><circle cx="93.3" cy="144.0" r="2.1" fill="url(#nubG)"/>
<line x1="87.3" y1="140.3" x2="91.0" y2="137.0" stroke="#4e4a3e" stroke-width="1.5" stroke-linecap="round"/><circle cx="87.3" cy="140.3" r="2.2" fill="url(#nubG)"/>
<line x1="82.6" y1="133.4" x2="87.2" y2="130.9" stroke="#4e4a3e" stroke-width="1.6" stroke-linecap="round"/><circle cx="82.6" cy="133.4" r="2.3" fill="url(#nubG)"/>
<line x1="82.8" y1="129.9" x2="87.5" y2="127.8" stroke="#4e4a3e" stroke-width="1.5" stroke-linecap="round"/><circle cx="82.8" cy="129.9" r="2.2" fill="url(#nubG)"/>
<line x1="78.8" y1="123.0" x2="83.5" y2="122.1" stroke="#4e4a3e" stroke-width="1.4" stroke-linecap="round"/><circle cx="78.8" cy="123.0" r="2.1" fill="url(#nubG)"/>
<line x1="80.0" y1="119.7" x2="85.1" y2="119.2" stroke="#4e4a3e" stroke-width="1.5" stroke-linecap="round"/><circle cx="80.0" cy="119.7" r="2.2" fill="url(#nubG)"/>
<line x1="79.7" y1="115.7" x2="84.0" y2="115.8" stroke="#4e4a3e" stroke-width="1.3" stroke-linecap="round"/><circle cx="79.7" cy="115.7" r="1.9" fill="url(#nubG)"/>
<line x1="78.9" y1="107.9" x2="83.1" y2="108.9" stroke="#4e4a3e" stroke-width="1.3" stroke-linecap="round"/><circle cx="78.9" cy="107.9" r="1.9" fill="url(#nubG)"/>
<line x1="81.7" y1="103.7" x2="85.8" y2="105.3" stroke="#4e4a3e" stroke-width="1.3" stroke-linecap="round"/><circle cx="81.7" cy="103.7" r="1.9" fill="url(#nubG)"/>
<line x1="81.3" y1="102.4" x2="86.0" y2="104.4" stroke="#4e4a3e" stroke-width="1.5" stroke-linecap="round"/><circle cx="81.3" cy="102.4" r="2.3" fill="url(#nubG)"/>
<line x1="83.0" y1="99.7" x2="86.8" y2="101.7" stroke="#4e4a3e" stroke-width="1.3" stroke-linecap="round"/><circle cx="83.0" cy="99.7" r="1.9" fill="url(#nubG)"/>
<line x1="90.1" y1="91.4" x2="93.7" y2="95.1" stroke="#4e4a3e" stroke-width="1.5" stroke-linecap="round"/><circle cx="90.1" cy="91.4" r="2.3" fill="url(#nubG)"/>
<line x1="95.6" y1="86.6" x2="98.4" y2="91.0" stroke="#4e4a3e" stroke-width="1.6" stroke-linecap="round"/><circle cx="95.6" cy="86.6" r="2.3" fill="url(#nubG)"/>
<line x1="95.9" y1="87.7" x2="98.5" y2="91.8" stroke="#4e4a3e" stroke-width="1.5" stroke-linecap="round"/><circle cx="95.9" cy="87.7" r="2.1" fill="url(#nubG)"/>
<line x1="98.2" y1="86.0" x2="100.3" y2="90.1" stroke="#4e4a3e" stroke-width="1.4" stroke-linecap="round"/><circle cx="98.2" cy="86.0" r="2.0" fill="url(#nubG)"/>
<line x1="107.5" y1="82.8" x2="108.3" y2="87.0" stroke="#4e4a3e" stroke-width="1.3" stroke-linecap="round"/><circle cx="107.5" cy="82.8" r="1.9" fill="url(#nubG)"/>
<line x1="114.7" y1="81.7" x2="114.6" y2="86.9" stroke="#4e4a3e" stroke-width="1.6" stroke-linecap="round"/><circle cx="114.7" cy="81.7" r="2.3" fill="url(#nubG)"/>
<line x1="120.1" y1="82.1" x2="119.3" y2="86.7" stroke="#4e4a3e" stroke-width="1.4" stroke-linecap="round"/><circle cx="120.1" cy="82.1" r="2.1" fill="url(#nubG)"/>
<line x1="122.2" y1="81.8" x2="121.1" y2="86.5" stroke="#4e4a3e" stroke-width="1.5" stroke-linecap="round"/><circle cx="122.2" cy="81.8" r="2.1" fill="url(#nubG)"/>
<line x1="127.6" y1="83.6" x2="125.6" y2="88.4" stroke="#4e4a3e" stroke-width="1.6" stroke-linecap="round"/><circle cx="127.6" cy="83.6" r="2.3" fill="url(#nubG)"/>
<line x1="131.7" y1="86.1" x2="129.2" y2="90.4" stroke="#4e4a3e" stroke-width="1.5" stroke-linecap="round"/><circle cx="131.7" cy="86.1" r="2.2" fill="url(#nubG)"/>
<line x1="134.0" y1="88.0" x2="131.0" y2="92.3" stroke="#4e4a3e" stroke-width="1.6" stroke-linecap="round"/><circle cx="134.0" cy="88.0" r="2.3" fill="url(#nubG)"/>
<line x1="140.1" y1="92.5" x2="137.0" y2="95.4" stroke="#4e4a3e" stroke-width="1.3" stroke-linecap="round"/><circle cx="140.1" cy="92.5" r="1.9" fill="url(#nubG)"/>
<line x1="142.9" y1="95.9" x2="139.4" y2="98.3" stroke="#4e4a3e" stroke-width="1.3" stroke-linecap="round"/><circle cx="142.9" cy="95.9" r="1.9" fill="url(#nubG)"/>
<line x1="146.5" y1="101.8" x2="142.6" y2="103.6" stroke="#4e4a3e" stroke-width="1.3" stroke-linecap="round"/><circle cx="146.5" cy="101.8" r="1.9" fill="url(#nubG)"/>
<line x1="147.9" y1="107.0" x2="143.2" y2="108.3" stroke="#4e4a3e" stroke-width="1.5" stroke-linecap="round"/><circle cx="147.9" cy="107.0" r="2.2" fill="url(#nubG)"/>
<line x1="149.2" y1="109.8" x2="144.3" y2="110.7" stroke="#4e4a3e" stroke-width="1.5" stroke-linecap="round"/><circle cx="149.2" cy="109.8" r="2.2" fill="url(#nubG)"/>
<circle cx="114.2" cy="116.3" r="30.8" fill="url(#sphG)"/>
<circle cx="114.2" cy="116.3" r="30.8" fill="url(#sphRim)"/>
<line x1="118.4" y1="144.8" x2="117.8" y2="140.6" stroke="#4e4a3e" stroke-width="1.3" stroke-linecap="round"/><circle cx="118.4" cy="144.8" r="1.9" fill="url(#nubG)"/>
<line x1="132.6" y1="135.0" x2="129.6" y2="131.9" stroke="#4e4a3e" stroke-width="1.3" stroke-linecap="round"/><circle cx="132.6" cy="135.0" r="1.9" fill="url(#nubG)"/>
<line x1="99.5" y1="98.1" x2="102.2" y2="101.4" stroke="#4e4a3e" stroke-width="1.3" stroke-linecap="round"/><circle cx="99.5" cy="98.1" r="1.9" fill="url(#nubG)"/>
<line x1="91.4" y1="123.2" x2="95.5" y2="122.0" stroke="#4e4a3e" stroke-width="1.3" stroke-linecap="round"/><circle cx="91.4" cy="123.2" r="1.9" fill="url(#nubG)"/>
<line x1="124.0" y1="142.0" x2="122.5" y2="138.1" stroke="#4e4a3e" stroke-width="1.3" stroke-linecap="round"/><circle cx="124.0" cy="142.0" r="1.9" fill="url(#nubG)"/>
<line x1="90.6" y1="131.8" x2="94.1" y2="129.5" stroke="#4e4a3e" stroke-width="1.3" stroke-linecap="round"/><circle cx="90.6" cy="131.8" r="1.9" fill="url(#nubG)"/>
<line x1="112.7" y1="145.4" x2="112.9" y2="141.2" stroke="#4e4a3e" stroke-width="1.3" stroke-linecap="round"/><circle cx="112.7" cy="145.4" r="1.9" fill="url(#nubG)"/>
<line x1="137.5" y1="126.0" x2="133.6" y2="124.4" stroke="#4e4a3e" stroke-width="1.3" stroke-linecap="round"/><circle cx="137.5" cy="126.0" r="1.9" fill="url(#nubG)"/>
<line x1="95.8" y1="134.2" x2="98.8" y2="131.3" stroke="#4e4a3e" stroke-width="1.3" stroke-linecap="round"/><circle cx="95.8" cy="134.2" r="1.9" fill="url(#nubG)"/>
<line x1="100.5" y1="138.4" x2="102.7" y2="134.8" stroke="#4e4a3e" stroke-width="1.3" stroke-linecap="round"/><circle cx="100.5" cy="138.4" r="1.9" fill="url(#nubG)"/>
<line x1="88.6" y1="116.7" x2="92.9" y2="116.6" stroke="#4e4a3e" stroke-width="1.3" stroke-linecap="round"/><circle cx="88.6" cy="116.7" r="1.9" fill="url(#nubG)"/>
<line x1="124.1" y1="143.2" x2="122.6" y2="139.2" stroke="#4e4a3e" stroke-width="1.3" stroke-linecap="round"/><circle cx="124.1" cy="143.2" r="1.9" fill="url(#nubG)"/>
<line x1="90.9" y1="103.7" x2="94.7" y2="105.7" stroke="#4e4a3e" stroke-width="1.3" stroke-linecap="round"/><circle cx="90.9" cy="103.7" r="1.9" fill="url(#nubG)"/>
<line x1="96.8" y1="138.2" x2="99.4" y2="134.9" stroke="#4e4a3e" stroke-width="1.3" stroke-linecap="round"/><circle cx="96.8" cy="138.2" r="1.9" fill="url(#nubG)"/>
<ellipse cx="117.6" cy="114.5" rx="19.0" ry="18.2" fill="url(#holeRim)"/>
<ellipse cx="117.9" cy="113.7" rx="15.2" ry="15.3" fill="#34305e"/>
<path d="M103,112 Q109,108 115,111 Q122,107 128,110 Q133,112 132.5,117 Q129,125 117,127.5 Q107,126 103.5,119 Q102.5,115 103,112Z" fill="url(#waterG)"/>
<path d="M105,114 Q110,111 115,114 T126,113 M107,120 Q112,117 117,120 T128,119" fill="none" stroke="#1e3e90" stroke-width="1.1" opacity="0.7"/>
<line x1="271.5" y1="134.8" x2="267.2" y2="135.1" stroke="#4e4a3e" stroke-width="1.3" stroke-linecap="round"/><circle cx="271.5" cy="134.8" r="1.9" fill="url(#nubG)"/>
<line x1="268.8" y1="143.7" x2="264.4" y2="142.8" stroke="#4e4a3e" stroke-width="1.3" stroke-linecap="round"/><circle cx="268.8" cy="143.7" r="2.0" fill="url(#nubG)"/>
<line x1="266.8" y1="150.7" x2="262.4" y2="148.7" stroke="#4e4a3e" stroke-width="1.5" stroke-linecap="round"/><circle cx="266.8" cy="150.7" r="2.2" fill="url(#nubG)"/>
<line x1="267.1" y1="151.6" x2="262.8" y2="149.6" stroke="#4e4a3e" stroke-width="1.4" stroke-linecap="round"/><circle cx="267.1" cy="151.6" r="2.1" fill="url(#nubG)"/>
<line x1="266.6" y1="154.7" x2="262.8" y2="152.5" stroke="#4e4a3e" stroke-width="1.3" stroke-linecap="round"/><circle cx="266.6" cy="154.7" r="1.9" fill="url(#nubG)"/>
<line x1="261.8" y1="158.0" x2="258.3" y2="155.1" stroke="#4e4a3e" stroke-width="1.4" stroke-linecap="round"/><circle cx="261.8" cy="158.0" r="2.0" fill="url(#nubG)"/>
<line x1="258.8" y1="164.2" x2="255.8" y2="160.6" stroke="#4e4a3e" stroke-width="1.4" stroke-linecap="round"/><circle cx="258.8" cy="164.2" r="2.0" fill="url(#nubG)"/>
<line x1="255.6" y1="164.6" x2="252.6" y2="160.3" stroke="#4e4a3e" stroke-width="1.6" stroke-linecap="round"/><circle cx="255.6" cy="164.6" r="2.3" fill="url(#nubG)"/>
<line x1="252.1" y1="167.8" x2="250.0" y2="163.7" stroke="#4e4a3e" stroke-width="1.4" stroke-linecap="round"/><circle cx="252.1" cy="167.8" r="2.0" fill="url(#nubG)"/>
<line x1="242.5" y1="170.4" x2="241.5" y2="165.5" stroke="#4e4a3e" stroke-width="1.5" stroke-linecap="round"/><circle cx="242.5" cy="170.4" r="2.2" fill="url(#nubG)"/>
<line x1="238.8" y1="171.6" x2="238.4" y2="166.5" stroke="#4e4a3e" stroke-width="1.5" stroke-linecap="round"/><circle cx="238.8" cy="171.6" r="2.3" fill="url(#nubG)"/>
<line x1="233.1" y1="170.3" x2="233.5" y2="166.0" stroke="#4e4a3e" stroke-width="1.3" stroke-linecap="round"/><circle cx="233.1" cy="170.3" r="1.9" fill="url(#nubG)"/>
<line x1="225.1" y1="169.5" x2="226.5" y2="165.3" stroke="#4e4a3e" stroke-width="1.3" stroke-linecap="round"/><circle cx="225.1" cy="169.5" r="2.0" fill="url(#nubG)"/>
<line x1="220.3" y1="167.6" x2="222.6" y2="163.2" stroke="#4e4a3e" stroke-width="1.5" stroke-linecap="round"/><circle cx="220.3" cy="167.6" r="2.2" fill="url(#nubG)"/>
<line x1="216.7" y1="164.6" x2="219.4" y2="160.9" stroke="#4e4a3e" stroke-width="1.4" stroke-linecap="round"/><circle cx="216.7" cy="164.6" r="2.0" fill="url(#nubG)"/>
<line x1="213.1" y1="161.2" x2="216.6" y2="157.6" stroke="#4e4a3e" stroke-width="1.5" stroke-linecap="round"/><circle cx="213.1" cy="161.2" r="2.2" fill="url(#nubG)"/>
<line x1="213.1" y1="163.1" x2="216.4" y2="159.4" stroke="#4e4a3e" stroke-width="1.5" stroke-linecap="round"/><circle cx="213.1" cy="163.1" r="2.2" fill="url(#nubG)"/>
<line x1="205.2" y1="153.6" x2="209.4" y2="151.4" stroke="#4e4a3e" stroke-width="1.4" stroke-linecap="round"/><circle cx="205.2" cy="153.6" r="2.1" fill="url(#nubG)"/>
<line x1="207.3" y1="153.7" x2="211.4" y2="151.3" stroke="#4e4a3e" stroke-width="1.4" stroke-linecap="round"/><circle cx="207.3" cy="153.7" r="2.1" fill="url(#nubG)"/>
<line x1="204.5" y1="146.8" x2="209.4" y2="145.3" stroke="#4e4a3e" stroke-width="1.5" stroke-linecap="round"/><circle cx="204.5" cy="146.8" r="2.3" fill="url(#nubG)"/>
<line x1="201.8" y1="142.2" x2="206.2" y2="141.6" stroke="#4e4a3e" stroke-width="1.3" stroke-linecap="round"/><circle cx="201.8" cy="142.2" r="2.0" fill="url(#nubG)"/>
<line x1="203.2" y1="139.1" x2="207.8" y2="138.8" stroke="#4e4a3e" stroke-width="1.4" stroke-linecap="round"/><circle cx="203.2" cy="139.1" r="2.0" fill="url(#nubG)"/>
<line x1="202.3" y1="133.9" x2="206.9" y2="134.3" stroke="#4e4a3e" stroke-width="1.4" stroke-linecap="round"/><circle cx="202.3" cy="133.9" r="2.0" fill="url(#nubG)"/>
<line x1="203.5" y1="124.1" x2="207.6" y2="125.7" stroke="#4e4a3e" stroke-width="1.3" stroke-linecap="round"/><circle cx="203.5" cy="124.1" r="1.9" fill="url(#nubG)"/>
<line x1="205.7" y1="123.4" x2="210.2" y2="125.4" stroke="#4e4a3e" stroke-width="1.5" stroke-linecap="round"/><circle cx="205.7" cy="123.4" r="2.2" fill="url(#nubG)"/>
<line x1="210.8" y1="115.2" x2="214.6" y2="118.5" stroke="#4e4a3e" stroke-width="1.5" stroke-linecap="round"/><circle cx="210.8" cy="115.2" r="2.2" fill="url(#nubG)"/>
<line x1="210.9" y1="115.8" x2="214.8" y2="119.0" stroke="#4e4a3e" stroke-width="1.5" stroke-linecap="round"/><circle cx="210.9" cy="115.8" r="2.2" fill="url(#nubG)"/>
<line x1="214.4" y1="111.8" x2="217.4" y2="115.3" stroke="#4e4a3e" stroke-width="1.4" stroke-linecap="round"/><circle cx="214.4" cy="111.8" r="2.1" fill="url(#nubG)"/>
<line x1="217.3" y1="108.8" x2="219.9" y2="112.7" stroke="#4e4a3e" stroke-width="1.4" stroke-linecap="round"/><circle cx="217.3" cy="108.8" r="2.1" fill="url(#nubG)"/>
<line x1="223.0" y1="105.3" x2="224.7" y2="109.5" stroke="#4e4a3e" stroke-width="1.4" stroke-linecap="round"/><circle cx="223.0" cy="105.3" r="2.0" fill="url(#nubG)"/>
<line x1="225.7" y1="105.6" x2="227.1" y2="109.7" stroke="#4e4a3e" stroke-width="1.3" stroke-linecap="round"/><circle cx="225.7" cy="105.6" r="1.9" fill="url(#nubG)"/>
<line x1="233.8" y1="103.3" x2="234.2" y2="108.3" stroke="#4e4a3e" stroke-width="1.5" stroke-linecap="round"/><circle cx="233.8" cy="103.3" r="2.2" fill="url(#nubG)"/>
<line x1="238.8" y1="102.4" x2="238.4" y2="107.6" stroke="#4e4a3e" stroke-width="1.6" stroke-linecap="round"/><circle cx="238.8" cy="102.4" r="2.3" fill="url(#nubG)"/>
<line x1="240.1" y1="104.3" x2="239.6" y2="108.7" stroke="#4e4a3e" stroke-width="1.3" stroke-linecap="round"/><circle cx="240.1" cy="104.3" r="1.9" fill="url(#nubG)"/>
<line x1="247.9" y1="104.7" x2="246.2" y2="109.4" stroke="#4e4a3e" stroke-width="1.5" stroke-linecap="round"/><circle cx="247.9" cy="104.7" r="2.2" fill="url(#nubG)"/>
<line x1="252.8" y1="105.8" x2="250.8" y2="109.6" stroke="#4e4a3e" stroke-width="1.3" stroke-linecap="round"/><circle cx="252.8" cy="105.8" r="1.9" fill="url(#nubG)"/>
<line x1="259.1" y1="112.7" x2="255.6" y2="116.4" stroke="#4e4a3e" stroke-width="1.5" stroke-linecap="round"/><circle cx="259.1" cy="112.7" r="2.3" fill="url(#nubG)"/>
<line x1="259.3" y1="110.3" x2="256.0" y2="114.1" stroke="#4e4a3e" stroke-width="1.5" stroke-linecap="round"/><circle cx="259.3" cy="110.3" r="2.2" fill="url(#nubG)"/>
<line x1="266.7" y1="121.2" x2="262.8" y2="123.2" stroke="#4e4a3e" stroke-width="1.3" stroke-linecap="round"/><circle cx="266.7" cy="121.2" r="1.9" fill="url(#nubG)"/>
<line x1="268.4" y1="125.9" x2="264.3" y2="127.3" stroke="#4e4a3e" stroke-width="1.3" stroke-linecap="round"/><circle cx="268.4" cy="125.9" r="1.9" fill="url(#nubG)"/>
<line x1="269.2" y1="127.8" x2="264.6" y2="129.1" stroke="#4e4a3e" stroke-width="1.4" stroke-linecap="round"/><circle cx="269.2" cy="127.8" r="2.1" fill="url(#nubG)"/>
<line x1="268.6" y1="129.4" x2="263.9" y2="130.5" stroke="#4e4a3e" stroke-width="1.4" stroke-linecap="round"/><circle cx="268.6" cy="129.4" r="2.1" fill="url(#nubG)"/>
<circle cx="236.2" cy="137.1" r="30.0" fill="url(#sphG)"/>
<circle cx="236.2" cy="137.1" r="30.0" fill="url(#sphRim)"/>
<line x1="234.8" y1="162.4" x2="235.0" y2="158.1" stroke="#4e4a3e" stroke-width="1.3" stroke-linecap="round"/><circle cx="234.8" cy="162.4" r="1.9" fill="url(#nubG)"/>
<line x1="225.3" y1="112.4" x2="227.0" y2="116.3" stroke="#4e4a3e" stroke-width="1.3" stroke-linecap="round"/><circle cx="225.3" cy="112.4" r="1.9" fill="url(#nubG)"/>
<line x1="244.0" y1="155.4" x2="242.3" y2="151.5" stroke="#4e4a3e" stroke-width="1.3" stroke-linecap="round"/><circle cx="244.0" cy="155.4" r="1.9" fill="url(#nubG)"/>
<line x1="216.9" y1="133.3" x2="221.1" y2="134.1" stroke="#4e4a3e" stroke-width="1.3" stroke-linecap="round"/><circle cx="216.9" cy="133.3" r="1.9" fill="url(#nubG)"/>
<line x1="230.0" y1="158.7" x2="231.2" y2="154.6" stroke="#4e4a3e" stroke-width="1.3" stroke-linecap="round"/><circle cx="230.0" cy="158.7" r="1.9" fill="url(#nubG)"/>
<line x1="252.6" y1="158.8" x2="250.1" y2="155.4" stroke="#4e4a3e" stroke-width="1.3" stroke-linecap="round"/><circle cx="252.6" cy="158.8" r="1.9" fill="url(#nubG)"/>
<line x1="235.1" y1="164.1" x2="235.2" y2="159.8" stroke="#4e4a3e" stroke-width="1.3" stroke-linecap="round"/><circle cx="235.1" cy="164.1" r="1.9" fill="url(#nubG)"/>
<line x1="210.3" y1="139.3" x2="214.5" y2="138.9" stroke="#4e4a3e" stroke-width="1.3" stroke-linecap="round"/><circle cx="210.3" cy="139.3" r="1.9" fill="url(#nubG)"/>
<line x1="215.6" y1="128.3" x2="219.5" y2="130.0" stroke="#4e4a3e" stroke-width="1.3" stroke-linecap="round"/><circle cx="215.6" cy="128.3" r="1.9" fill="url(#nubG)"/>
<line x1="221.5" y1="154.0" x2="224.3" y2="150.8" stroke="#4e4a3e" stroke-width="1.3" stroke-linecap="round"/><circle cx="221.5" cy="154.0" r="1.9" fill="url(#nubG)"/>
<line x1="229.1" y1="153.9" x2="230.7" y2="150.0" stroke="#4e4a3e" stroke-width="1.3" stroke-linecap="round"/><circle cx="229.1" cy="153.9" r="1.9" fill="url(#nubG)"/>
<line x1="211.7" y1="128.4" x2="215.7" y2="129.8" stroke="#4e4a3e" stroke-width="1.3" stroke-linecap="round"/><circle cx="211.7" cy="128.4" r="1.9" fill="url(#nubG)"/>
<line x1="252.9" y1="156.0" x2="250.1" y2="152.8" stroke="#4e4a3e" stroke-width="1.3" stroke-linecap="round"/><circle cx="252.9" cy="156.0" r="1.9" fill="url(#nubG)"/>
<line x1="218.3" y1="143.8" x2="222.3" y2="142.3" stroke="#4e4a3e" stroke-width="1.3" stroke-linecap="round"/><circle cx="218.3" cy="143.8" r="1.9" fill="url(#nubG)"/>
<ellipse cx="247.1" cy="133.0" rx="15.4" ry="17.7" fill="url(#holeRim)"/>
<ellipse cx="247.4" cy="132.2" rx="12.3" ry="14.9" fill="#34305e"/>
<path d="M235,135 Q241,131 247,134 Q253,131 259,134 Q259.5,141 255,145.5 Q248,149 240,146 Q235.5,141 235,135Z" fill="url(#waterG)"/><path d="M237,139 Q242,136 247,139 T257,138" fill="none" stroke="#1e3e90" stroke-width="1.1" opacity="0.7"/>
<path d="M262.0,118.0 C263.3,116.7 267.0,112.5 270.0,110.0 C273.0,107.5 275.8,104.7 280.0,103.0 C284.2,101.3 292.5,100.5 295.0,100.0" fill="none" stroke="#1e1e78" stroke-width="4.4" stroke-linecap="round" stroke-linejoin="round"/><path d="M262.0,118.0 C263.3,116.7 267.0,112.5 270.0,110.0 C273.0,107.5 275.8,104.7 280.0,103.0 C284.2,101.3 292.5,100.5 295.0,100.0" fill="none" stroke="#3c3cc0" stroke-width="2.7" stroke-linecap="round"/><path d="M262.0,118.0 C263.3,116.7 267.0,112.5 270.0,110.0 C273.0,107.5 275.8,104.7 280.0,103.0 C284.2,101.3 292.5,100.5 295.0,100.0" fill="none" stroke="#6a6ae6" stroke-width="1.0" stroke-linecap="round" transform="translate(-0.4,-0.9)"/>
<path d="M318,92 L332,90 L322.5,101 Z" fill="#2a2aa0"/><circle cx="320.5" cy="96.5" r="3.2" fill="#14145a"/>
<path d="M55.0,156.4 C58.3,155.3 67.2,150.9 74.6,149.9 C82.0,148.9 92.4,149.3 99.3,150.7 C106.2,152.0 110.2,157.6 115.7,158.0 C121.2,158.4 126.5,154.5 132.0,153.0 C137.5,151.5 141.8,149.2 148.6,149.0 C155.4,148.8 164.8,148.7 173.0,151.5 C181.2,154.3 190.6,162.0 197.6,165.8 C204.6,169.7 209.3,172.5 215.2,174.6 C221.1,176.7 226.9,177.9 232.8,178.2 C238.7,178.5 244.5,177.9 250.4,176.4 C256.3,174.9 262.1,172.6 268.0,169.4 C273.9,166.2 280.3,160.2 285.6,157.0 C290.9,153.8 296.0,152.9 299.7,150.0 C303.4,147.1 304.6,141.4 308.0,139.3 C311.4,137.2 318.0,137.8 320.0,137.5" fill="none" stroke="#0c3028" stroke-width="5.0" stroke-linecap="round" stroke-linejoin="round"/><path d="M55.0,156.4 C58.3,155.3 67.2,150.9 74.6,149.9 C82.0,148.9 92.4,149.3 99.3,150.7 C106.2,152.0 110.2,157.6 115.7,158.0 C121.2,158.4 126.5,154.5 132.0,153.0 C137.5,151.5 141.8,149.2 148.6,149.0 C155.4,148.8 164.8,148.7 173.0,151.5 C181.2,154.3 190.6,162.0 197.6,165.8 C204.6,169.7 209.3,172.5 215.2,174.6 C221.1,176.7 226.9,177.9 232.8,178.2 C238.7,178.5 244.5,177.9 250.4,176.4 C256.3,174.9 262.1,172.6 268.0,169.4 C273.9,166.2 280.3,160.2 285.6,157.0 C290.9,153.8 296.0,152.9 299.7,150.0 C303.4,147.1 304.6,141.4 308.0,139.3 C311.4,137.2 318.0,137.8 320.0,137.5" fill="none" stroke="#1e5c4c" stroke-width="3.1" stroke-linecap="round"/><path d="M55.0,156.4 C58.3,155.3 67.2,150.9 74.6,149.9 C82.0,148.9 92.4,149.3 99.3,150.7 C106.2,152.0 110.2,157.6 115.7,158.0 C121.2,158.4 126.5,154.5 132.0,153.0 C137.5,151.5 141.8,149.2 148.6,149.0 C155.4,148.8 164.8,148.7 173.0,151.5 C181.2,154.3 190.6,162.0 197.6,165.8 C204.6,169.7 209.3,172.5 215.2,174.6 C221.1,176.7 226.9,177.9 232.8,178.2 C238.7,178.5 244.5,177.9 250.4,176.4 C256.3,174.9 262.1,172.6 268.0,169.4 C273.9,166.2 280.3,160.2 285.6,157.0 C290.9,153.8 296.0,152.9 299.7,150.0 C303.4,147.1 304.6,141.4 308.0,139.3 C311.4,137.2 318.0,137.8 320.0,137.5" fill="none" stroke="#3e8a74" stroke-width="1.1" stroke-linecap="round" transform="translate(-0.4,-0.9)"/>
<path d="M319.6,133 L334.8,133.5 L324,144 Z" fill="#12803e"/><circle cx="321.5" cy="139" r="3.3" fill="#0a3a20"/>
<path d="M49.0,266.0 C48.2,260.2 52.0,256.8 54.0,253.0 C56.0,249.2 58.3,246.0 61.0,243.0 C63.7,240.0 67.0,237.5 70.2,235.0 C73.4,232.5 76.4,230.1 80.0,228.0 C83.6,225.9 86.7,224.1 92.0,222.5 C97.3,220.9 105.7,219.4 112.0,218.5 C118.3,217.6 123.7,217.0 130.0,217.2 C136.3,217.4 144.5,218.2 150.0,219.5 C155.5,220.8 159.0,222.8 163.0,225.0 C167.0,227.2 170.7,229.9 174.0,233.0 C177.3,236.1 180.1,240.3 182.6,243.5 C185.1,246.7 186.1,249.5 189.0,252.0 C191.9,254.5 195.6,256.8 200.0,258.5 C204.4,260.2 210.2,261.1 215.2,262.0 C220.2,262.9 227.5,262.6 230.0,264.0 C232.5,265.4 232.5,269.6 230.0,270.4 C227.5,271.2 220.2,269.2 215.2,268.6 C210.2,268.0 204.4,267.9 200.0,267.0 C195.6,266.1 192.3,265.4 189.0,263.3 C185.7,261.2 183.3,257.7 180.4,254.6 C177.5,251.5 174.6,247.7 171.7,244.8 C168.8,242.0 166.6,239.7 163.0,237.5 C159.4,235.3 155.5,233.0 150.0,231.5 C144.5,230.0 135.8,229.0 130.0,228.5 C124.2,228.0 120.2,228.1 115.0,228.5 C109.8,228.9 103.5,229.7 98.7,231.0 C93.9,232.3 90.0,234.2 86.0,236.5 C82.0,238.8 78.0,241.8 75.0,245.0 C72.0,248.2 70.0,251.5 68.0,256.0 C66.0,260.5 64.5,266.7 63.0,272.0 C61.5,277.3 61.3,289.0 59.0,288.0 C56.7,287.0 49.8,271.8 49.0,266.0Z" fill="url(#purpG)"/>
<path d="M58.0,250.0 C59.3,248.5 62.3,244.2 66.0,241.0 C69.7,237.8 75.2,233.6 80.0,231.0 C84.8,228.4 89.7,227.1 95.0,225.5 C100.3,223.9 106.2,222.3 112.0,221.5 C117.8,220.7 123.7,220.2 130.0,220.5 C136.3,220.8 144.5,221.6 150.0,223.0 C155.5,224.4 159.2,226.7 163.0,229.0 C166.8,231.3 170.0,234.0 173.0,237.0 C176.0,240.0 179.7,245.3 181.0,247.0" fill="none" stroke="#c478d8" stroke-width="2" opacity="0.55" stroke-linecap="round"/>
<path d="M47.0,266.0 C48.3,261.7 51.5,256.3 54.0,254.0 C56.5,251.7 60.0,250.7 62.0,252.0 C64.0,253.3 65.8,257.3 66.0,262.0 C66.2,266.7 64.3,275.0 63.0,280.0 C61.7,285.0 60.2,290.3 58.0,292.0 C55.8,293.7 52.0,292.0 50.0,290.0 C48.0,288.0 46.5,284.0 46.0,280.0 C45.5,276.0 45.7,270.3 47.0,266.0Z" fill="#762848"/>
<ellipse cx="50.5" cy="283" rx="6.8" ry="13" transform="rotate(-18 50.5 283)" fill="#12060c"/>
<path d="M68,256 Q80,251 100,252" fill="none" stroke="#8c3aa6" stroke-width="6.5" stroke-linecap="round"/>
<path d="M64,263 Q76,272 82,284" fill="none" stroke="#8c3aa6" stroke-width="6" stroke-linecap="round"/>
<path d="M76,282 L90,279 L84,294 Z" fill="#8c3aa6"/>
<path d="M194,266 Q203,276 199,284 Q195,290 184,291.5" fill="none" stroke="#8c3aa6" stroke-width="4.6" stroke-linecap="round"/>
<path d="M168.6,294.5 L185,285 L188.5,297.5 Z" fill="#8c3aa6"/>
<line x1="161.8" y1="263.3" x2="156.9" y2="263.7" stroke="#4e4a3e" stroke-width="1.5" stroke-linecap="round"/><circle cx="161.8" cy="263.3" r="2.1" fill="url(#nubG)"/>
<line x1="160.4" y1="271.3" x2="155.4" y2="270.6" stroke="#4e4a3e" stroke-width="1.5" stroke-linecap="round"/><circle cx="160.4" cy="271.3" r="2.2" fill="url(#nubG)"/>
<line x1="159.0" y1="279.3" x2="154.6" y2="277.6" stroke="#4e4a3e" stroke-width="1.4" stroke-linecap="round"/><circle cx="159.0" cy="279.3" r="2.1" fill="url(#nubG)"/>
<line x1="157.7" y1="279.2" x2="153.4" y2="277.5" stroke="#4e4a3e" stroke-width="1.4" stroke-linecap="round"/><circle cx="157.7" cy="279.2" r="2.0" fill="url(#nubG)"/>
<line x1="153.9" y1="286.4" x2="149.8" y2="283.5" stroke="#4e4a3e" stroke-width="1.5" stroke-linecap="round"/><circle cx="153.9" cy="286.4" r="2.2" fill="url(#nubG)"/>
<line x1="152.9" y1="288.5" x2="149.5" y2="285.8" stroke="#4e4a3e" stroke-width="1.3" stroke-linecap="round"/><circle cx="152.9" cy="288.5" r="1.9" fill="url(#nubG)"/>
<line x1="144.7" y1="297.3" x2="142.0" y2="292.9" stroke="#4e4a3e" stroke-width="1.5" stroke-linecap="round"/><circle cx="144.7" cy="297.3" r="2.3" fill="url(#nubG)"/>
<line x1="142.0" y1="296.8" x2="139.9" y2="292.8" stroke="#4e4a3e" stroke-width="1.4" stroke-linecap="round"/><circle cx="142.0" cy="296.8" r="2.0" fill="url(#nubG)"/>
<line x1="138.3" y1="298.8" x2="136.4" y2="293.9" stroke="#4e4a3e" stroke-width="1.6" stroke-linecap="round"/><circle cx="138.3" cy="298.8" r="2.3" fill="url(#nubG)"/>
<line x1="134.4" y1="300.1" x2="133.1" y2="295.2" stroke="#4e4a3e" stroke-width="1.5" stroke-linecap="round"/><circle cx="134.4" cy="300.1" r="2.2" fill="url(#nubG)"/>
<line x1="131.6" y1="302.7" x2="130.8" y2="298.1" stroke="#4e4a3e" stroke-width="1.4" stroke-linecap="round"/><circle cx="131.6" cy="302.7" r="2.1" fill="url(#nubG)"/>
<line x1="122.4" y1="301.6" x2="122.8" y2="296.9" stroke="#4e4a3e" stroke-width="1.4" stroke-linecap="round"/><circle cx="122.4" cy="301.6" r="2.1" fill="url(#nubG)"/>
<line x1="120.3" y1="300.6" x2="121.1" y2="295.5" stroke="#4e4a3e" stroke-width="1.5" stroke-linecap="round"/><circle cx="120.3" cy="300.6" r="2.3" fill="url(#nubG)"/>
<line x1="114.3" y1="301.1" x2="115.7" y2="296.9" stroke="#4e4a3e" stroke-width="1.3" stroke-linecap="round"/><circle cx="114.3" cy="301.1" r="2.0" fill="url(#nubG)"/>
<line x1="103.6" y1="295.9" x2="106.5" y2="291.9" stroke="#4e4a3e" stroke-width="1.5" stroke-linecap="round"/><circle cx="103.6" cy="295.9" r="2.2" fill="url(#nubG)"/>
<line x1="101.2" y1="293.0" x2="104.6" y2="289.3" stroke="#4e4a3e" stroke-width="1.5" stroke-linecap="round"/><circle cx="101.2" cy="293.0" r="2.2" fill="url(#nubG)"/>
<line x1="101.5" y1="292.9" x2="104.9" y2="289.1" stroke="#4e4a3e" stroke-width="1.5" stroke-linecap="round"/><circle cx="101.5" cy="292.9" r="2.2" fill="url(#nubG)"/>
<line x1="96.5" y1="289.2" x2="100.5" y2="286.0" stroke="#4e4a3e" stroke-width="1.5" stroke-linecap="round"/><circle cx="96.5" cy="289.2" r="2.3" fill="url(#nubG)"/>
<line x1="93.8" y1="282.3" x2="97.9" y2="280.2" stroke="#4e4a3e" stroke-width="1.4" stroke-linecap="round"/><circle cx="93.8" cy="282.3" r="2.1" fill="url(#nubG)"/>
<line x1="90.3" y1="278.1" x2="94.7" y2="276.6" stroke="#4e4a3e" stroke-width="1.4" stroke-linecap="round"/><circle cx="90.3" cy="278.1" r="2.0" fill="url(#nubG)"/>
<line x1="91.8" y1="275.3" x2="96.6" y2="274.0" stroke="#4e4a3e" stroke-width="1.5" stroke-linecap="round"/><circle cx="91.8" cy="275.3" r="2.2" fill="url(#nubG)"/>
<line x1="89.8" y1="262.0" x2="94.5" y2="262.5" stroke="#4e4a3e" stroke-width="1.4" stroke-linecap="round"/><circle cx="89.8" cy="262.0" r="2.1" fill="url(#nubG)"/>
<line x1="89.4" y1="260.3" x2="93.8" y2="261.0" stroke="#4e4a3e" stroke-width="1.3" stroke-linecap="round"/><circle cx="89.4" cy="260.3" r="2.0" fill="url(#nubG)"/>
<line x1="91.3" y1="254.7" x2="95.9" y2="256.2" stroke="#4e4a3e" stroke-width="1.5" stroke-linecap="round"/><circle cx="91.3" cy="254.7" r="2.1" fill="url(#nubG)"/>
<line x1="92.8" y1="253.4" x2="97.1" y2="255.1" stroke="#4e4a3e" stroke-width="1.4" stroke-linecap="round"/><circle cx="92.8" cy="253.4" r="2.0" fill="url(#nubG)"/>
<line x1="98.3" y1="243.3" x2="102.0" y2="246.4" stroke="#4e4a3e" stroke-width="1.5" stroke-linecap="round"/><circle cx="98.3" cy="243.3" r="2.1" fill="url(#nubG)"/>
<line x1="98.8" y1="243.6" x2="102.1" y2="246.4" stroke="#4e4a3e" stroke-width="1.3" stroke-linecap="round"/><circle cx="98.8" cy="243.6" r="1.9" fill="url(#nubG)"/>
<line x1="104.9" y1="235.9" x2="107.5" y2="239.7" stroke="#4e4a3e" stroke-width="1.4" stroke-linecap="round"/><circle cx="104.9" cy="235.9" r="2.0" fill="url(#nubG)"/>
<line x1="108.7" y1="233.9" x2="111.1" y2="238.5" stroke="#4e4a3e" stroke-width="1.5" stroke-linecap="round"/><circle cx="108.7" cy="233.9" r="2.3" fill="url(#nubG)"/>
<line x1="116.2" y1="231.7" x2="117.5" y2="236.8" stroke="#4e4a3e" stroke-width="1.6" stroke-linecap="round"/><circle cx="116.2" cy="231.7" r="2.3" fill="url(#nubG)"/>
<line x1="121.4" y1="230.3" x2="122.0" y2="235.4" stroke="#4e4a3e" stroke-width="1.5" stroke-linecap="round"/><circle cx="121.4" cy="230.3" r="2.3" fill="url(#nubG)"/>
<line x1="122.8" y1="230.7" x2="123.1" y2="235.2" stroke="#4e4a3e" stroke-width="1.3" stroke-linecap="round"/><circle cx="122.8" cy="230.7" r="2.0" fill="url(#nubG)"/>
<line x1="131.3" y1="231.6" x2="130.6" y2="235.8" stroke="#4e4a3e" stroke-width="1.3" stroke-linecap="round"/><circle cx="131.3" cy="231.6" r="1.9" fill="url(#nubG)"/>
<line x1="136.2" y1="231.2" x2="134.9" y2="235.7" stroke="#4e4a3e" stroke-width="1.4" stroke-linecap="round"/><circle cx="136.2" cy="231.2" r="2.1" fill="url(#nubG)"/>
<line x1="140.8" y1="234.9" x2="138.8" y2="239.0" stroke="#4e4a3e" stroke-width="1.4" stroke-linecap="round"/><circle cx="140.8" cy="234.9" r="2.0" fill="url(#nubG)"/>
<line x1="141.8" y1="234.4" x2="139.8" y2="238.3" stroke="#4e4a3e" stroke-width="1.3" stroke-linecap="round"/><circle cx="141.8" cy="234.4" r="1.9" fill="url(#nubG)"/>
<line x1="144.7" y1="236.3" x2="141.9" y2="240.6" stroke="#4e4a3e" stroke-width="1.5" stroke-linecap="round"/><circle cx="144.7" cy="236.3" r="2.3" fill="url(#nubG)"/>
<line x1="155.0" y1="244.6" x2="151.2" y2="247.4" stroke="#4e4a3e" stroke-width="1.4" stroke-linecap="round"/><circle cx="155.0" cy="244.6" r="2.1" fill="url(#nubG)"/>
<line x1="154.9" y1="243.5" x2="151.1" y2="246.4" stroke="#4e4a3e" stroke-width="1.4" stroke-linecap="round"/><circle cx="154.9" cy="243.5" r="2.1" fill="url(#nubG)"/>
<line x1="157.6" y1="252.9" x2="153.5" y2="254.6" stroke="#4e4a3e" stroke-width="1.3" stroke-linecap="round"/><circle cx="157.6" cy="252.9" r="2.0" fill="url(#nubG)"/>
<line x1="161.3" y1="258.3" x2="156.3" y2="259.4" stroke="#4e4a3e" stroke-width="1.5" stroke-linecap="round"/><circle cx="161.3" cy="258.3" r="2.3" fill="url(#nubG)"/>
<line x1="161.0" y1="261.7" x2="156.2" y2="262.3" stroke="#4e4a3e" stroke-width="1.4" stroke-linecap="round"/><circle cx="161.0" cy="261.7" r="2.1" fill="url(#nubG)"/>
<circle cx="125.5" cy="266.2" r="31.7" fill="url(#sphG)"/>
<circle cx="125.5" cy="266.2" r="31.7" fill="url(#sphRim)"/>
<line x1="132.7" y1="290.9" x2="131.5" y2="286.9" stroke="#4e4a3e" stroke-width="1.3" stroke-linecap="round"/><circle cx="132.7" cy="290.9" r="1.9" fill="url(#nubG)"/>
<line x1="151.5" y1="275.9" x2="147.5" y2="274.4" stroke="#4e4a3e" stroke-width="1.3" stroke-linecap="round"/><circle cx="151.5" cy="275.9" r="1.9" fill="url(#nubG)"/>
<line x1="115.5" y1="243.7" x2="117.2" y2="247.6" stroke="#4e4a3e" stroke-width="1.3" stroke-linecap="round"/><circle cx="115.5" cy="243.7" r="1.9" fill="url(#nubG)"/>
<line x1="106.0" y1="243.9" x2="108.8" y2="247.1" stroke="#4e4a3e" stroke-width="1.3" stroke-linecap="round"/><circle cx="106.0" cy="243.9" r="1.9" fill="url(#nubG)"/>
<line x1="141.0" y1="243.1" x2="138.7" y2="246.6" stroke="#4e4a3e" stroke-width="1.3" stroke-linecap="round"/><circle cx="141.0" cy="243.1" r="1.9" fill="url(#nubG)"/>
<line x1="143.2" y1="284.9" x2="140.3" y2="281.8" stroke="#4e4a3e" stroke-width="1.3" stroke-linecap="round"/><circle cx="143.2" cy="284.9" r="1.9" fill="url(#nubG)"/>
<line x1="141.2" y1="241.1" x2="138.9" y2="244.7" stroke="#4e4a3e" stroke-width="1.3" stroke-linecap="round"/><circle cx="141.2" cy="241.1" r="1.9" fill="url(#nubG)"/>
<line x1="106.9" y1="287.5" x2="109.7" y2="284.3" stroke="#4e4a3e" stroke-width="1.3" stroke-linecap="round"/><circle cx="106.9" cy="287.5" r="1.9" fill="url(#nubG)"/>
<line x1="154.7" y1="271.9" x2="150.5" y2="271.1" stroke="#4e4a3e" stroke-width="1.3" stroke-linecap="round"/><circle cx="154.7" cy="271.9" r="1.9" fill="url(#nubG)"/>
<line x1="118.7" y1="290.4" x2="119.9" y2="286.3" stroke="#4e4a3e" stroke-width="1.3" stroke-linecap="round"/><circle cx="118.7" cy="290.4" r="1.9" fill="url(#nubG)"/>
<line x1="151.2" y1="267.4" x2="147.0" y2="267.2" stroke="#4e4a3e" stroke-width="1.3" stroke-linecap="round"/><circle cx="151.2" cy="267.4" r="1.9" fill="url(#nubG)"/>
<line x1="99.4" y1="255.6" x2="103.3" y2="257.2" stroke="#4e4a3e" stroke-width="1.3" stroke-linecap="round"/><circle cx="99.4" cy="255.6" r="1.9" fill="url(#nubG)"/>
<line x1="103.2" y1="277.0" x2="107.0" y2="275.2" stroke="#4e4a3e" stroke-width="1.3" stroke-linecap="round"/><circle cx="103.2" cy="277.0" r="1.9" fill="url(#nubG)"/>
<line x1="99.5" y1="258.7" x2="103.6" y2="259.8" stroke="#4e4a3e" stroke-width="1.3" stroke-linecap="round"/><circle cx="99.5" cy="258.7" r="1.9" fill="url(#nubG)"/>
<ellipse cx="128.5" cy="262.2" rx="18.0" ry="18.0" fill="url(#holeRim)"/>
<ellipse cx="128.8" cy="261.4" rx="14.4" ry="15.1" fill="#34305e"/>
<path d="M113,259 Q119,252 128,254 Q137,252 143,259 Q145,269 139,275 Q130,280 121,277 Q114,270 113,259Z" fill="url(#methG)"/>
<path d="M113,253 Q123,249 136,254 L119,258Z" fill="#9a48b0"/>
<line x1="280.9" y1="284.6" x2="275.8" y2="284.5" stroke="#4e4a3e" stroke-width="1.5" stroke-linecap="round"/><circle cx="280.9" cy="284.6" r="2.2" fill="url(#nubG)"/>
<line x1="281.1" y1="287.7" x2="276.5" y2="287.2" stroke="#4e4a3e" stroke-width="1.4" stroke-linecap="round"/><circle cx="281.1" cy="287.7" r="2.0" fill="url(#nubG)"/>
<line x1="281.0" y1="294.2" x2="276.8" y2="293.0" stroke="#4e4a3e" stroke-width="1.3" stroke-linecap="round"/><circle cx="281.0" cy="294.2" r="1.9" fill="url(#nubG)"/>
<line x1="277.3" y1="298.8" x2="273.2" y2="296.8" stroke="#4e4a3e" stroke-width="1.4" stroke-linecap="round"/><circle cx="277.3" cy="298.8" r="2.0" fill="url(#nubG)"/>
<line x1="272.2" y1="307.1" x2="268.6" y2="303.9" stroke="#4e4a3e" stroke-width="1.5" stroke-linecap="round"/><circle cx="272.2" cy="307.1" r="2.1" fill="url(#nubG)"/>
<line x1="272.7" y1="308.1" x2="269.2" y2="304.9" stroke="#4e4a3e" stroke-width="1.4" stroke-linecap="round"/><circle cx="272.7" cy="308.1" r="2.1" fill="url(#nubG)"/>
<line x1="270.0" y1="309.8" x2="266.8" y2="306.4" stroke="#4e4a3e" stroke-width="1.4" stroke-linecap="round"/><circle cx="270.0" cy="309.8" r="2.0" fill="url(#nubG)"/>
<line x1="261.5" y1="316.0" x2="259.6" y2="312.0" stroke="#4e4a3e" stroke-width="1.3" stroke-linecap="round"/><circle cx="261.5" cy="316.0" r="2.0" fill="url(#nubG)"/>
<line x1="257.3" y1="317.0" x2="255.8" y2="312.5" stroke="#4e4a3e" stroke-width="1.4" stroke-linecap="round"/><circle cx="257.3" cy="317.0" r="2.1" fill="url(#nubG)"/>
<line x1="256.1" y1="317.7" x2="254.6" y2="312.9" stroke="#4e4a3e" stroke-width="1.5" stroke-linecap="round"/><circle cx="256.1" cy="317.7" r="2.2" fill="url(#nubG)"/>
<line x1="248.5" y1="320.0" x2="248.2" y2="315.0" stroke="#4e4a3e" stroke-width="1.5" stroke-linecap="round"/><circle cx="248.5" cy="320.0" r="2.2" fill="url(#nubG)"/>
<line x1="242.6" y1="319.6" x2="243.0" y2="315.0" stroke="#4e4a3e" stroke-width="1.4" stroke-linecap="round"/><circle cx="242.6" cy="319.6" r="2.0" fill="url(#nubG)"/>
<line x1="237.0" y1="319.0" x2="238.1" y2="314.8" stroke="#4e4a3e" stroke-width="1.3" stroke-linecap="round"/><circle cx="237.0" cy="319.0" r="1.9" fill="url(#nubG)"/>
<line x1="229.9" y1="315.2" x2="231.9" y2="311.3" stroke="#4e4a3e" stroke-width="1.3" stroke-linecap="round"/><circle cx="229.9" cy="315.2" r="1.9" fill="url(#nubG)"/>
<line x1="231.2" y1="315.7" x2="233.0" y2="311.8" stroke="#4e4a3e" stroke-width="1.3" stroke-linecap="round"/><circle cx="231.2" cy="315.7" r="1.9" fill="url(#nubG)"/>
<line x1="224.8" y1="312.1" x2="227.8" y2="308.2" stroke="#4e4a3e" stroke-width="1.5" stroke-linecap="round"/><circle cx="224.8" cy="312.1" r="2.2" fill="url(#nubG)"/>
<line x1="219.6" y1="309.1" x2="223.1" y2="305.8" stroke="#4e4a3e" stroke-width="1.5" stroke-linecap="round"/><circle cx="219.6" cy="309.1" r="2.2" fill="url(#nubG)"/>
<line x1="217.0" y1="305.9" x2="221.0" y2="302.9" stroke="#4e4a3e" stroke-width="1.5" stroke-linecap="round"/><circle cx="217.0" cy="305.9" r="2.2" fill="url(#nubG)"/>
<line x1="212.2" y1="296.0" x2="217.1" y2="294.3" stroke="#4e4a3e" stroke-width="1.6" stroke-linecap="round"/><circle cx="212.2" cy="296.0" r="2.3" fill="url(#nubG)"/>
<line x1="213.7" y1="296.7" x2="218.5" y2="294.9" stroke="#4e4a3e" stroke-width="1.6" stroke-linecap="round"/><circle cx="213.7" cy="296.7" r="2.3" fill="url(#nubG)"/>
<line x1="211.0" y1="293.7" x2="215.9" y2="292.3" stroke="#4e4a3e" stroke-width="1.5" stroke-linecap="round"/><circle cx="211.0" cy="293.7" r="2.3" fill="url(#nubG)"/>
<line x1="211.8" y1="287.2" x2="216.9" y2="286.7" stroke="#4e4a3e" stroke-width="1.5" stroke-linecap="round"/><circle cx="211.8" cy="287.2" r="2.3" fill="url(#nubG)"/>
<line x1="211.0" y1="274.9" x2="215.8" y2="276.2" stroke="#4e4a3e" stroke-width="1.5" stroke-linecap="round"/><circle cx="211.0" cy="274.9" r="2.2" fill="url(#nubG)"/>
<line x1="213.5" y1="271.9" x2="217.5" y2="273.4" stroke="#4e4a3e" stroke-width="1.3" stroke-linecap="round"/><circle cx="213.5" cy="271.9" r="1.9" fill="url(#nubG)"/>
<line x1="213.9" y1="267.5" x2="218.5" y2="269.9" stroke="#4e4a3e" stroke-width="1.6" stroke-linecap="round"/><circle cx="213.9" cy="267.5" r="2.3" fill="url(#nubG)"/>
<line x1="218.0" y1="264.9" x2="221.6" y2="267.4" stroke="#4e4a3e" stroke-width="1.3" stroke-linecap="round"/><circle cx="218.0" cy="264.9" r="1.9" fill="url(#nubG)"/>
<line x1="220.4" y1="261.0" x2="223.5" y2="263.9" stroke="#4e4a3e" stroke-width="1.3" stroke-linecap="round"/><circle cx="220.4" cy="261.0" r="1.9" fill="url(#nubG)"/>
<line x1="222.1" y1="258.3" x2="225.0" y2="261.5" stroke="#4e4a3e" stroke-width="1.3" stroke-linecap="round"/><circle cx="222.1" cy="258.3" r="1.9" fill="url(#nubG)"/>
<line x1="226.1" y1="256.1" x2="228.6" y2="259.6" stroke="#4e4a3e" stroke-width="1.3" stroke-linecap="round"/><circle cx="226.1" cy="256.1" r="1.9" fill="url(#nubG)"/>
<line x1="235.1" y1="249.7" x2="236.4" y2="254.0" stroke="#4e4a3e" stroke-width="1.3" stroke-linecap="round"/><circle cx="235.1" cy="249.7" r="2.0" fill="url(#nubG)"/>
<line x1="239.1" y1="248.7" x2="239.9" y2="253.1" stroke="#4e4a3e" stroke-width="1.3" stroke-linecap="round"/><circle cx="239.1" cy="248.7" r="2.0" fill="url(#nubG)"/>
<line x1="241.9" y1="248.2" x2="242.4" y2="253.2" stroke="#4e4a3e" stroke-width="1.5" stroke-linecap="round"/><circle cx="241.9" cy="248.2" r="2.2" fill="url(#nubG)"/>
<line x1="249.7" y1="248.4" x2="249.2" y2="253.2" stroke="#4e4a3e" stroke-width="1.4" stroke-linecap="round"/><circle cx="249.7" cy="248.4" r="2.1" fill="url(#nubG)"/>
<line x1="252.4" y1="249.1" x2="251.5" y2="254.0" stroke="#4e4a3e" stroke-width="1.5" stroke-linecap="round"/><circle cx="252.4" cy="249.1" r="2.2" fill="url(#nubG)"/>
<line x1="255.2" y1="250.6" x2="254.0" y2="255.0" stroke="#4e4a3e" stroke-width="1.4" stroke-linecap="round"/><circle cx="255.2" cy="250.6" r="2.0" fill="url(#nubG)"/>
<line x1="266.1" y1="255.9" x2="263.2" y2="259.9" stroke="#4e4a3e" stroke-width="1.5" stroke-linecap="round"/><circle cx="266.1" cy="255.9" r="2.2" fill="url(#nubG)"/>
<line x1="267.4" y1="256.5" x2="264.5" y2="260.3" stroke="#4e4a3e" stroke-width="1.4" stroke-linecap="round"/><circle cx="267.4" cy="256.5" r="2.1" fill="url(#nubG)"/>
<line x1="274.3" y1="262.5" x2="270.6" y2="265.4" stroke="#4e4a3e" stroke-width="1.4" stroke-linecap="round"/><circle cx="274.3" cy="262.5" r="2.0" fill="url(#nubG)"/>
<line x1="273.1" y1="262.2" x2="269.4" y2="265.2" stroke="#4e4a3e" stroke-width="1.4" stroke-linecap="round"/><circle cx="273.1" cy="262.2" r="2.1" fill="url(#nubG)"/>
<line x1="279.4" y1="269.5" x2="275.2" y2="271.4" stroke="#4e4a3e" stroke-width="1.4" stroke-linecap="round"/><circle cx="279.4" cy="269.5" r="2.0" fill="url(#nubG)"/>
<line x1="281.6" y1="277.2" x2="277.0" y2="278.1" stroke="#4e4a3e" stroke-width="1.4" stroke-linecap="round"/><circle cx="281.6" cy="277.2" r="2.1" fill="url(#nubG)"/>
<line x1="279.8" y1="276.8" x2="274.7" y2="277.9" stroke="#4e4a3e" stroke-width="1.6" stroke-linecap="round"/><circle cx="279.8" cy="276.8" r="2.3" fill="url(#nubG)"/>
<circle cx="246.0" cy="284.2" r="31.0" fill="url(#sphG)"/>
<circle cx="246.0" cy="284.2" r="31.0" fill="url(#sphRim)"/>
<line x1="221.4" y1="279.7" x2="225.6" y2="280.4" stroke="#4e4a3e" stroke-width="1.3" stroke-linecap="round"/><circle cx="221.4" cy="279.7" r="1.9" fill="url(#nubG)"/>
<line x1="261.7" y1="260.5" x2="259.4" y2="264.1" stroke="#4e4a3e" stroke-width="1.3" stroke-linecap="round"/><circle cx="261.7" cy="260.5" r="1.9" fill="url(#nubG)"/>
<line x1="239.6" y1="301.6" x2="241.1" y2="297.6" stroke="#4e4a3e" stroke-width="1.3" stroke-linecap="round"/><circle cx="239.6" cy="301.6" r="1.9" fill="url(#nubG)"/>
<line x1="226.6" y1="282.8" x2="230.9" y2="283.1" stroke="#4e4a3e" stroke-width="1.3" stroke-linecap="round"/><circle cx="226.6" cy="282.8" r="1.9" fill="url(#nubG)"/>
<line x1="242.2" y1="309.2" x2="242.8" y2="305.0" stroke="#4e4a3e" stroke-width="1.3" stroke-linecap="round"/><circle cx="242.2" cy="309.2" r="1.9" fill="url(#nubG)"/>
<line x1="250.4" y1="257.7" x2="249.7" y2="261.9" stroke="#4e4a3e" stroke-width="1.3" stroke-linecap="round"/><circle cx="250.4" cy="257.7" r="1.9" fill="url(#nubG)"/>
<line x1="245.2" y1="308.8" x2="245.3" y2="304.6" stroke="#4e4a3e" stroke-width="1.3" stroke-linecap="round"/><circle cx="245.2" cy="308.8" r="1.9" fill="url(#nubG)"/>
<line x1="260.5" y1="261.0" x2="258.3" y2="264.6" stroke="#4e4a3e" stroke-width="1.3" stroke-linecap="round"/><circle cx="260.5" cy="261.0" r="1.9" fill="url(#nubG)"/>
<line x1="232.0" y1="268.0" x2="234.8" y2="271.2" stroke="#4e4a3e" stroke-width="1.3" stroke-linecap="round"/><circle cx="232.0" cy="268.0" r="1.9" fill="url(#nubG)"/>
<line x1="238.1" y1="302.8" x2="239.8" y2="298.9" stroke="#4e4a3e" stroke-width="1.3" stroke-linecap="round"/><circle cx="238.1" cy="302.8" r="1.9" fill="url(#nubG)"/>
<line x1="221.4" y1="278.6" x2="225.5" y2="279.6" stroke="#4e4a3e" stroke-width="1.3" stroke-linecap="round"/><circle cx="221.4" cy="278.6" r="1.9" fill="url(#nubG)"/>
<line x1="225.7" y1="274.1" x2="229.5" y2="276.0" stroke="#4e4a3e" stroke-width="1.3" stroke-linecap="round"/><circle cx="225.7" cy="274.1" r="1.9" fill="url(#nubG)"/>
<line x1="227.6" y1="293.8" x2="231.3" y2="291.8" stroke="#4e4a3e" stroke-width="1.3" stroke-linecap="round"/><circle cx="227.6" cy="293.8" r="1.9" fill="url(#nubG)"/>
<line x1="255.9" y1="261.3" x2="254.3" y2="265.2" stroke="#4e4a3e" stroke-width="1.3" stroke-linecap="round"/><circle cx="255.9" cy="261.3" r="1.9" fill="url(#nubG)"/>
<ellipse cx="259.6" cy="285.0" rx="16.8" ry="16.8" fill="url(#holeRim)"/>
<ellipse cx="259.9" cy="284.2" rx="13.4" ry="14.1" fill="#34305e"/>
<path d="M246.5,284 Q253,278 261,281 Q269,280 273,286 Q272,295 265,299 Q255,301 250,296 Q246,291 246.5,284Z" fill="url(#methG)"/>
<path d="M245,275 L268,282 L249,286Z" fill="#a04cb8"/>
<circle cx="365.0" cy="110.5" r="18" fill="url(#blueBall)"/>
<path d="M348.0,106.5 Q351.0,94.5 365.0,94.0 Q379.0,94.5 382.0,106.5 Q365.0,113.5 348.0,106.5 Z" fill="#2e64c4"/>
<path d="M355.0,100.5 l4.0,-2.5 l4.0,2.5 l-4.0,2.5 Z" fill="#5a92ea" opacity="0.8"/>
<path d="M363.0,97.5 l4.5,-2.5 l4.5,2.5 l-4.5,2.5 Z" fill="#5a92ea" opacity="0.8"/>
<path d="M371.0,100.5 l4.0,-2.5 l4.0,2.5 l-4.0,2.5 Z" fill="#5a92ea" opacity="0.8"/>
<path d="M352.0,106.5 l4.0,-2.0 l4.0,2.0 l-4.0,2.0 Z" fill="#5a92ea" opacity="0.8"/>
<path d="M361.0,104.5 l4.5,-2.5 l4.5,2.5 l-4.5,2.5 Z" fill="#5a92ea" opacity="0.8"/>
<path d="M370.0,106.5 l4.5,-2.0 l4.5,2.0 l-4.5,2.0 Z" fill="#5a92ea" opacity="0.8"/>
<path d="M348.0,107.5 Q365.0,114.5 382.0,107.5" fill="none" stroke="#103070" stroke-width="1" opacity="0.6"/>
<circle cx="421.5" cy="111.0" r="18" fill="url(#pinkBall)"/>
<path d="M404.5,107.0 Q407.5,95.0 421.5,94.5 Q435.5,95.0 438.5,107.0 Q421.5,114.0 404.5,107.0 Z" fill="#c8568e"/>
<path d="M411.5,101.0 l4.0,-2.5 l4.0,2.5 l-4.0,2.5 Z" fill="#f08ec0" opacity="0.8"/>
<path d="M419.5,98.0 l4.5,-2.5 l4.5,2.5 l-4.5,2.5 Z" fill="#f08ec0" opacity="0.8"/>
<path d="M427.5,101.0 l4.0,-2.5 l4.0,2.5 l-4.0,2.5 Z" fill="#f08ec0" opacity="0.8"/>
<path d="M408.5,107.0 l4.0,-2.0 l4.0,2.0 l-4.0,2.0 Z" fill="#f08ec0" opacity="0.8"/>
<path d="M417.5,105.0 l4.5,-2.5 l4.5,2.5 l-4.5,2.5 Z" fill="#f08ec0" opacity="0.8"/>
<path d="M426.5,107.0 l4.5,-2.0 l4.5,2.0 l-4.5,2.0 Z" fill="#f08ec0" opacity="0.8"/>
<path d="M404.5,108.0 Q421.5,115.0 438.5,108.0" fill="none" stroke="#6a2040" stroke-width="1" opacity="0.6"/>
<line x1="397.6" y1="312.7" x2="393.8" y2="312.8" stroke="#6a5a10" stroke-width="1.1" stroke-linecap="round"/><circle cx="397.6" cy="312.7" r="1.7" fill="url(#ynubG)"/>
<line x1="397.1" y1="321.8" x2="393.1" y2="320.6" stroke="#6a5a10" stroke-width="1.3" stroke-linecap="round"/><circle cx="397.1" cy="321.8" r="1.8" fill="url(#ynubG)"/>
<line x1="395.5" y1="324.8" x2="391.6" y2="323.0" stroke="#6a5a10" stroke-width="1.3" stroke-linecap="round"/><circle cx="395.5" cy="324.8" r="1.9" fill="url(#ynubG)"/>
<line x1="393.3" y1="330.3" x2="390.0" y2="327.8" stroke="#6a5a10" stroke-width="1.3" stroke-linecap="round"/><circle cx="393.3" cy="330.3" r="1.8" fill="url(#ynubG)"/>
<line x1="387.4" y1="335.0" x2="385.2" y2="332.1" stroke="#6a5a10" stroke-width="1.1" stroke-linecap="round"/><circle cx="387.4" cy="335.0" r="1.6" fill="url(#ynubG)"/>
<line x1="386.9" y1="336.3" x2="384.7" y2="333.2" stroke="#6a5a10" stroke-width="1.1" stroke-linecap="round"/><circle cx="386.9" cy="336.3" r="1.7" fill="url(#ynubG)"/>
<line x1="378.5" y1="340.0" x2="377.5" y2="336.5" stroke="#6a5a10" stroke-width="1.1" stroke-linecap="round"/><circle cx="378.5" cy="340.0" r="1.6" fill="url(#ynubG)"/>
<line x1="372.0" y1="339.6" x2="371.8" y2="335.2" stroke="#6a5a10" stroke-width="1.3" stroke-linecap="round"/><circle cx="372.0" cy="339.6" r="1.9" fill="url(#ynubG)"/>
<line x1="366.1" y1="339.6" x2="366.9" y2="335.4" stroke="#6a5a10" stroke-width="1.3" stroke-linecap="round"/><circle cx="366.1" cy="339.6" r="1.9" fill="url(#ynubG)"/>
<line x1="361.5" y1="338.0" x2="363.0" y2="334.1" stroke="#6a5a10" stroke-width="1.3" stroke-linecap="round"/><circle cx="361.5" cy="338.0" r="1.8" fill="url(#ynubG)"/>
<line x1="359.1" y1="339.2" x2="360.9" y2="335.4" stroke="#6a5a10" stroke-width="1.3" stroke-linecap="round"/><circle cx="359.1" cy="339.2" r="1.8" fill="url(#ynubG)"/>
<line x1="351.4" y1="330.8" x2="354.3" y2="328.2" stroke="#6a5a10" stroke-width="1.2" stroke-linecap="round"/><circle cx="351.4" cy="330.8" r="1.7" fill="url(#ynubG)"/>
<line x1="348.3" y1="329.0" x2="351.4" y2="326.9" stroke="#6a5a10" stroke-width="1.1" stroke-linecap="round"/><circle cx="348.3" cy="329.0" r="1.7" fill="url(#ynubG)"/>
<line x1="344.4" y1="322.5" x2="348.0" y2="321.3" stroke="#6a5a10" stroke-width="1.2" stroke-linecap="round"/><circle cx="344.4" cy="322.5" r="1.7" fill="url(#ynubG)"/>
<line x1="344.5" y1="321.5" x2="348.3" y2="320.4" stroke="#6a5a10" stroke-width="1.2" stroke-linecap="round"/><circle cx="344.5" cy="321.5" r="1.7" fill="url(#ynubG)"/>
<line x1="343.8" y1="312.4" x2="347.7" y2="312.6" stroke="#6a5a10" stroke-width="1.2" stroke-linecap="round"/><circle cx="343.8" cy="312.4" r="1.7" fill="url(#ynubG)"/>
<line x1="344.8" y1="311.0" x2="348.8" y2="311.4" stroke="#6a5a10" stroke-width="1.2" stroke-linecap="round"/><circle cx="344.8" cy="311.0" r="1.8" fill="url(#ynubG)"/>
<line x1="346.9" y1="301.2" x2="350.7" y2="303.1" stroke="#6a5a10" stroke-width="1.3" stroke-linecap="round"/><circle cx="346.9" cy="301.2" r="1.9" fill="url(#ynubG)"/>
<line x1="348.3" y1="296.7" x2="351.7" y2="299.2" stroke="#6a5a10" stroke-width="1.3" stroke-linecap="round"/><circle cx="348.3" cy="296.7" r="1.8" fill="url(#ynubG)"/>
<line x1="352.5" y1="294.7" x2="355.1" y2="297.3" stroke="#6a5a10" stroke-width="1.1" stroke-linecap="round"/><circle cx="352.5" cy="294.7" r="1.6" fill="url(#ynubG)"/>
<line x1="354.3" y1="290.8" x2="356.9" y2="294.3" stroke="#6a5a10" stroke-width="1.3" stroke-linecap="round"/><circle cx="354.3" cy="290.8" r="1.9" fill="url(#ynubG)"/>
<line x1="364.4" y1="288.1" x2="365.5" y2="292.1" stroke="#6a5a10" stroke-width="1.3" stroke-linecap="round"/><circle cx="364.4" cy="288.1" r="1.8" fill="url(#ynubG)"/>
<line x1="365.6" y1="285.8" x2="366.4" y2="289.9" stroke="#6a5a10" stroke-width="1.3" stroke-linecap="round"/><circle cx="365.6" cy="285.8" r="1.8" fill="url(#ynubG)"/>
<line x1="375.5" y1="286.3" x2="374.9" y2="290.3" stroke="#6a5a10" stroke-width="1.2" stroke-linecap="round"/><circle cx="375.5" cy="286.3" r="1.7" fill="url(#ynubG)"/>
<line x1="382.0" y1="287.3" x2="380.5" y2="290.8" stroke="#6a5a10" stroke-width="1.1" stroke-linecap="round"/><circle cx="382.0" cy="287.3" r="1.7" fill="url(#ynubG)"/>
<line x1="384.6" y1="289.2" x2="382.5" y2="292.8" stroke="#6a5a10" stroke-width="1.3" stroke-linecap="round"/><circle cx="384.6" cy="289.2" r="1.8" fill="url(#ynubG)"/>
<line x1="388.7" y1="293.0" x2="385.8" y2="296.3" stroke="#6a5a10" stroke-width="1.3" stroke-linecap="round"/><circle cx="388.7" cy="293.0" r="2.0" fill="url(#ynubG)"/>
<line x1="391.6" y1="296.8" x2="388.3" y2="299.4" stroke="#6a5a10" stroke-width="1.3" stroke-linecap="round"/><circle cx="391.6" cy="296.8" r="1.8" fill="url(#ynubG)"/>
<line x1="396.2" y1="300.6" x2="392.7" y2="302.4" stroke="#6a5a10" stroke-width="1.2" stroke-linecap="round"/><circle cx="396.2" cy="300.6" r="1.7" fill="url(#ynubG)"/>
<line x1="397.8" y1="310.6" x2="393.5" y2="311.1" stroke="#6a5a10" stroke-width="1.3" stroke-linecap="round"/><circle cx="397.8" cy="310.6" r="1.9" fill="url(#ynubG)"/>
<circle cx="371" cy="313.5" r="23" fill="url(#spsG)"/>
<line x1="355.7" y1="323.4" x2="358.7" y2="321.5" stroke="#6a5a10" stroke-width="1.0" stroke-linecap="round"/><circle cx="355.7" cy="323.4" r="1.5" fill="url(#ynubG)"/>
<line x1="373.0" y1="326.3" x2="372.5" y2="322.8" stroke="#6a5a10" stroke-width="1.0" stroke-linecap="round"/><circle cx="373.0" cy="326.3" r="1.5" fill="url(#ynubG)"/>
<line x1="380.9" y1="328.4" x2="379.0" y2="325.5" stroke="#6a5a10" stroke-width="1.0" stroke-linecap="round"/><circle cx="380.9" cy="328.4" r="1.5" fill="url(#ynubG)"/>
<line x1="390.4" y1="312.2" x2="386.9" y2="312.4" stroke="#6a5a10" stroke-width="1.0" stroke-linecap="round"/><circle cx="390.4" cy="312.2" r="1.5" fill="url(#ynubG)"/>
<line x1="358.8" y1="325.2" x2="361.3" y2="322.8" stroke="#6a5a10" stroke-width="1.0" stroke-linecap="round"/><circle cx="358.8" cy="325.2" r="1.5" fill="url(#ynubG)"/>
<line x1="389.5" y1="322.7" x2="386.3" y2="321.1" stroke="#6a5a10" stroke-width="1.0" stroke-linecap="round"/><circle cx="389.5" cy="322.7" r="1.5" fill="url(#ynubG)"/>
<line x1="355.8" y1="298.2" x2="358.2" y2="300.7" stroke="#6a5a10" stroke-width="1.0" stroke-linecap="round"/><circle cx="355.8" cy="298.2" r="1.5" fill="url(#ynubG)"/>
<circle cx="373.5" cy="310" r="12.3" fill="url(#spsHole)"/>
<circle cx="375" cy="311.5" r="9" fill="url(#spsIn)"/>
<path d="M399.6,312.3 L408,312.3 L408,309.8 L414.8,314.5 L408,319.2 L408,316.7 L399.6,316.7Z" fill="#cdd4ac" stroke="#98a07c" stroke-width="0.8"/>
<text x="209.4" y="73.9" font-family="Liberation Sans, sans-serif" font-weight="bold" font-size="11.6" fill="#a0a0a0" opacity="0.55">H<tspan font-size="8" dy="2.5">2</tspan><tspan dy="-2.5">O Donating</tspan></text><text x="208.5" y="73.0" font-family="Liberation Sans, sans-serif" font-weight="bold" font-size="11.6" fill="#000" stroke="#000" stroke-width="0.3">H<tspan font-size="8" dy="2.5">2</tspan><tspan dy="-2.5">O Donating</tspan></text>
<text x="209.4" y="223.4" font-family="Liberation Sans, sans-serif" font-weight="bold" font-size="11.6" fill="#a0a0a0" opacity="0.55">CH<tspan font-size="8" dy="2.5">3</tspan><tspan dy="-2.5">OH Accepting</tspan></text><text x="208.5" y="222.5" font-family="Liberation Sans, sans-serif" font-weight="bold" font-size="11.6" fill="#000" stroke="#000" stroke-width="0.3">CH<tspan font-size="8" dy="2.5">3</tspan><tspan dy="-2.5">OH Accepting</tspan></text>
<text x="30" y="183.2" font-family="Liberation Sans, sans-serif" font-weight="bold" font-size="15.6" fill="#111">(A)</text>
<text x="30" y="343" font-family="Liberation Sans, sans-serif" font-weight="bold" font-size="15.6" fill="#111">(B)</text>
<text x="354.4" y="88.6" font-family="Liberation Sans, sans-serif" font-weight="bold" font-size="11.6" fill="#000" stroke="#000" stroke-width="0.3">H<tspan font-size="8" dy="2.5">2</tspan><tspan dy="-2.5">O</tspan></text>
<text x="394" y="88.6" font-family="Liberation Sans, sans-serif" font-weight="bold" font-size="11.6" fill="#000" stroke="#000" stroke-width="0.3">Methanol</text>
<text x="362.8" y="171" font-family="Liberation Sans, sans-serif" font-weight="bold" font-size="11.6" fill="#000" stroke="#000" stroke-width="0.3">Hydrophilic</text>
<text x="358.5" y="185" font-family="Liberation Sans, sans-serif" font-weight="bold" font-size="11.6" fill="#000" stroke="#000" stroke-width="0.3">ionic channel</text>
<text x="360.7" y="281" font-family="Liberation Sans, sans-serif" font-weight="bold" font-size="11.6" fill="#000" stroke="#000" stroke-width="0.3">S-PS@(SiO<tspan font-size="8" dy="2.5">2</tspan><tspan dy="-2.5">)</tspan></text>
<text x="416" y="318" font-family="Liberation Sans, sans-serif" font-weight="bold" font-size="11.6" fill="#000" stroke="#000" stroke-width="0.3">-SO<tspan font-size="8" dy="2.5">3</tspan><tspan dy="-2.5">H</tspan></text>
<text transform="translate(36.5,121) rotate(-90)" font-family="Liberation Sans, sans-serif" font-weight="bold" font-size="10.5" fill="#2e5a8a">(H<tspan font-size="7" dy="2">2</tspan><tspan dy="-2">O)</tspan><tspan font-size="7" dy="2">n</tspan><tspan dy="-2">H</tspan><tspan font-size="7" dy="-3">+</tspan></text>
<text x="42.8" y="155" font-family="Liberation Sans, sans-serif" font-weight="bold" font-size="10.5" fill="#3a8a8a">H<tspan font-size="6.5" dy="-3.5">+</tspan></text>
<text transform="translate(38.3,273) rotate(-90)" font-family="Liberation Sans, sans-serif" font-weight="bold" font-size="11" fill="#8a38a8">CH<tspan font-size="7" dy="2">3</tspan><tspan dy="-2">OH</tspan></text>
<line x1="578.5" y1="228.1" x2="570.3" y2="60.1" stroke="#b4b4b4" stroke-width="0.70" stroke-dasharray="1.8,2.6" stroke-linecap="butt"/>
<line x1="602.5" y1="217.2" x2="596.5" y2="57.1" stroke="#b4b4b4" stroke-width="0.70" stroke-dasharray="1.8,2.6" stroke-linecap="butt"/>
<line x1="625.4" y1="206.8" x2="621.4" y2="54.2" stroke="#b4b4b4" stroke-width="0.70" stroke-dasharray="1.8,2.6" stroke-linecap="butt"/>
<line x1="647.2" y1="196.9" x2="645.1" y2="51.5" stroke="#b4b4b4" stroke-width="0.70" stroke-dasharray="1.8,2.6" stroke-linecap="butt"/>
<line x1="666.6" y1="188.1" x2="666.3" y2="49.1" stroke="#b4b4b4" stroke-width="0.70" stroke-dasharray="1.8,2.6" stroke-linecap="butt"/>
<line x1="555.3" y1="213.3" x2="671.2" y2="166.6" stroke="#b4b4b4" stroke-width="0.70" stroke-dasharray="1.8,2.6" stroke-linecap="butt"/>
<line x1="553.6" y1="184.2" x2="671.2" y2="143.8" stroke="#b4b4b4" stroke-width="0.70" stroke-dasharray="1.8,2.6" stroke-linecap="butt"/>
<line x1="551.9" y1="154.1" x2="671.2" y2="120.2" stroke="#b4b4b4" stroke-width="0.70" stroke-dasharray="1.8,2.6" stroke-linecap="butt"/>
<line x1="550.2" y1="125.6" x2="671.3" y2="97.8" stroke="#b4b4b4" stroke-width="0.70" stroke-dasharray="1.8,2.6" stroke-linecap="butt"/>
<line x1="548.4" y1="94.1" x2="671.3" y2="73.1" stroke="#b4b4b4" stroke-width="0.70" stroke-dasharray="1.8,2.6" stroke-linecap="butt"/>
<line x1="679.8" y1="189.0" x2="680.6" y2="49.3" stroke="#b4b4b4" stroke-width="0.70" stroke-dasharray="1.8,2.6" stroke-linecap="butt"/>
<line x1="698.8" y1="195.5" x2="701.3" y2="51.1" stroke="#b4b4b4" stroke-width="0.70" stroke-dasharray="1.8,2.6" stroke-linecap="butt"/>
<line x1="717.8" y1="202.1" x2="722.0" y2="53.0" stroke="#b4b4b4" stroke-width="0.70" stroke-dasharray="1.8,2.6" stroke-linecap="butt"/>
<line x1="738.6" y1="209.3" x2="744.5" y2="54.9" stroke="#b4b4b4" stroke-width="0.70" stroke-dasharray="1.8,2.6" stroke-linecap="butt"/>
<line x1="761.2" y1="217.1" x2="769.1" y2="57.1" stroke="#b4b4b4" stroke-width="0.70" stroke-dasharray="1.8,2.6" stroke-linecap="butt"/>
<line x1="785.1" y1="225.4" x2="795.1" y2="59.4" stroke="#b4b4b4" stroke-width="0.70" stroke-dasharray="1.8,2.6" stroke-linecap="butt"/>
<line x1="671.2" y1="166.6" x2="800.6" y2="206.3" stroke="#b4b4b4" stroke-width="0.70" stroke-dasharray="1.8,2.6" stroke-linecap="butt"/>
<line x1="671.2" y1="143.8" x2="802.4" y2="178.2" stroke="#b4b4b4" stroke-width="0.70" stroke-dasharray="1.8,2.6" stroke-linecap="butt"/>
<line x1="671.2" y1="120.2" x2="804.4" y2="149.0" stroke="#b4b4b4" stroke-width="0.70" stroke-dasharray="1.8,2.6" stroke-linecap="butt"/>
<line x1="671.3" y1="97.8" x2="806.2" y2="121.4" stroke="#b4b4b4" stroke-width="0.70" stroke-dasharray="1.8,2.6" stroke-linecap="butt"/>
<line x1="671.3" y1="73.1" x2="808.2" y2="91.0" stroke="#b4b4b4" stroke-width="0.70" stroke-dasharray="1.8,2.6" stroke-linecap="butt"/>
<line x1="572.8" y1="244.8" x2="686.5" y2="191.3" stroke="#b4b4b4" stroke-width="0.70" stroke-dasharray="1.8,2.6" stroke-linecap="butt"/>
<line x1="597.1" y1="255.0" x2="709.5" y2="199.3" stroke="#b4b4b4" stroke-width="0.70" stroke-dasharray="1.8,2.6" stroke-linecap="butt"/>
<line x1="621.3" y1="265.3" x2="732.5" y2="207.2" stroke="#b4b4b4" stroke-width="0.70" stroke-dasharray="1.8,2.6" stroke-linecap="butt"/>
<line x1="645.5" y1="275.5" x2="755.5" y2="215.2" stroke="#b4b4b4" stroke-width="0.70" stroke-dasharray="1.8,2.6" stroke-linecap="butt"/>
<line x1="669.7" y1="285.7" x2="778.6" y2="223.1" stroke="#b4b4b4" stroke-width="0.70" stroke-dasharray="1.8,2.6" stroke-linecap="butt"/>
<line x1="573.9" y1="230.2" x2="707.4" y2="285.1" stroke="#b4b4b4" stroke-width="0.70" stroke-dasharray="1.8,2.6" stroke-linecap="butt"/>
<line x1="596.8" y1="219.8" x2="728.9" y2="272.2" stroke="#b4b4b4" stroke-width="0.70" stroke-dasharray="1.8,2.6" stroke-linecap="butt"/>
<line x1="619.7" y1="209.4" x2="750.5" y2="259.3" stroke="#b4b4b4" stroke-width="0.70" stroke-dasharray="1.8,2.6" stroke-linecap="butt"/>
<line x1="642.6" y1="199.0" x2="772.0" y2="246.3" stroke="#b4b4b4" stroke-width="0.70" stroke-dasharray="1.8,2.6" stroke-linecap="butt"/>
<line x1="662.0" y1="190.2" x2="790.4" y2="235.4" stroke="#b4b4b4" stroke-width="0.70" stroke-dasharray="1.8,2.6" stroke-linecap="butt"/>
<line x1="546.6" y1="62.8" x2="671.3" y2="48.5" stroke="#222" stroke-width="1.00" stroke-dasharray="3,1.6" stroke-linecap="butt"/>
<line x1="671.3" y1="48.5" x2="810.2" y2="60.7" stroke="#222" stroke-width="1.00" stroke-dasharray="3,1.6" stroke-linecap="butt"/>
<line x1="671.2" y1="186.0" x2="671.3" y2="48.5" stroke="#333" stroke-width="1.20" stroke-linecap="butt"/>
<line x1="799.0" y1="230.2" x2="810.2" y2="60.7" stroke="#333" stroke-width="1.30" stroke-linecap="butt"/>
<line x1="556.7" y1="238.0" x2="671.2" y2="186.0" stroke="#222" stroke-width="1.00" stroke-dasharray="3.5,1.2" stroke-linecap="butt"/>
<line x1="671.2" y1="186.0" x2="799.0" y2="230.2" stroke="#222" stroke-width="1.00" stroke-dasharray="3.5,1.2" stroke-linecap="butt"/>
<line x1="556.7" y1="238.0" x2="546.6" y2="62.8" stroke="#000" stroke-width="1.90" stroke-linecap="butt"/>
<line x1="556.4" y1="238.0" x2="691.2" y2="294.8" stroke="#000" stroke-width="2.00" stroke-linecap="butt"/>
<line x1="691.2" y1="294.8" x2="799.0" y2="230.2" stroke="#000" stroke-width="2.00" stroke-linecap="butt"/>
<line x1="557.2" y1="238.0" x2="545.7" y2="239.2" stroke="#000" stroke-width="1.90" stroke-linecap="butt"/>
<line x1="556.5" y1="225.7" x2="550.0" y2="226.2" stroke="#000" stroke-width="1.70" stroke-linecap="butt"/>
<line x1="555.8" y1="213.3" x2="544.3" y2="214.5" stroke="#000" stroke-width="1.90" stroke-linecap="butt"/>
<line x1="554.9" y1="198.8" x2="548.4" y2="199.4" stroke="#000" stroke-width="1.70" stroke-linecap="butt"/>
<line x1="554.1" y1="184.3" x2="542.6" y2="185.5" stroke="#000" stroke-width="1.90" stroke-linecap="butt"/>
<line x1="553.2" y1="169.2" x2="546.7" y2="169.8" stroke="#000" stroke-width="1.70" stroke-linecap="butt"/>
<line x1="552.4" y1="154.2" x2="540.9" y2="155.4" stroke="#000" stroke-width="1.90" stroke-linecap="butt"/>
<line x1="551.5" y1="139.9" x2="545.0" y2="140.5" stroke="#000" stroke-width="1.70" stroke-linecap="butt"/>
<line x1="550.7" y1="125.7" x2="539.2" y2="126.9" stroke="#000" stroke-width="1.90" stroke-linecap="butt"/>
<line x1="549.8" y1="110.0" x2="543.3" y2="110.6" stroke="#000" stroke-width="1.70" stroke-linecap="butt"/>
<line x1="548.9" y1="94.3" x2="537.4" y2="95.5" stroke="#000" stroke-width="1.90" stroke-linecap="butt"/>
<line x1="548.0" y1="78.6" x2="541.5" y2="79.2" stroke="#000" stroke-width="1.70" stroke-linecap="butt"/>
<line x1="547.1" y1="62.8" x2="535.6" y2="64.0" stroke="#000" stroke-width="1.90" stroke-linecap="butt"/>
<line x1="563.2" y1="240.7" x2="554.7" y2="245.2" stroke="#000" stroke-width="1.90" stroke-linecap="butt"/>
<line x1="583.5" y1="249.3" x2="575.0" y2="253.8" stroke="#000" stroke-width="1.90" stroke-linecap="butt"/>
<line x1="606.2" y1="258.9" x2="597.7" y2="263.4" stroke="#000" stroke-width="1.90" stroke-linecap="butt"/>
<line x1="627.5" y1="267.9" x2="619.0" y2="272.4" stroke="#000" stroke-width="1.90" stroke-linecap="butt"/>
<line x1="651.5" y1="278.0" x2="643.0" y2="282.5" stroke="#000" stroke-width="1.90" stroke-linecap="butt"/>
<line x1="677.7" y1="289.1" x2="669.2" y2="293.6" stroke="#000" stroke-width="1.90" stroke-linecap="butt"/>
<line x1="573.4" y1="245.0" x2="568.9" y2="247.4" stroke="#000" stroke-width="1.70" stroke-linecap="butt"/>
<line x1="594.9" y1="254.1" x2="590.4" y2="256.5" stroke="#000" stroke-width="1.70" stroke-linecap="butt"/>
<line x1="616.9" y1="263.4" x2="612.4" y2="265.8" stroke="#000" stroke-width="1.70" stroke-linecap="butt"/>
<line x1="639.5" y1="273.0" x2="635.0" y2="275.4" stroke="#000" stroke-width="1.70" stroke-linecap="butt"/>
<line x1="664.6" y1="283.6" x2="660.1" y2="286.0" stroke="#000" stroke-width="1.70" stroke-linecap="butt"/>
<line x1="714.5" y1="280.8" x2="725.5" y2="283.4" stroke="#000" stroke-width="1.90" stroke-linecap="butt"/>
<line x1="738.6" y1="266.4" x2="749.6" y2="269.0" stroke="#000" stroke-width="1.90" stroke-linecap="butt"/>
<line x1="758.0" y1="254.8" x2="769.0" y2="257.4" stroke="#000" stroke-width="1.90" stroke-linecap="butt"/>
<line x1="777.3" y1="243.2" x2="788.3" y2="245.8" stroke="#000" stroke-width="1.90" stroke-linecap="butt"/>
<line x1="794.0" y1="233.2" x2="805.0" y2="235.8" stroke="#000" stroke-width="1.90" stroke-linecap="butt"/>
<line x1="726.5" y1="273.6" x2="732.5" y2="275.0" stroke="#000" stroke-width="1.70" stroke-linecap="butt"/>
<line x1="748.3" y1="260.6" x2="754.3" y2="262.0" stroke="#000" stroke-width="1.70" stroke-linecap="butt"/>
<line x1="767.6" y1="249.0" x2="773.6" y2="250.4" stroke="#000" stroke-width="1.70" stroke-linecap="butt"/>
<line x1="785.6" y1="238.2" x2="791.6" y2="239.6" stroke="#000" stroke-width="1.70" stroke-linecap="butt"/>
<line x1="702.9" y1="287.8" x2="708.9" y2="289.2" stroke="#000" stroke-width="1.70" stroke-linecap="butt"/>
<text x="522.5" y="65.7" text-anchor="end" font-family="Liberation Sans, sans-serif" font-weight="bold" font-size="12" fill="#180e3a">0.30</text>
<text x="524.8" y="98.3" text-anchor="end" font-family="Liberation Sans, sans-serif" font-weight="bold" font-size="12" fill="#180e3a">0.25</text>
<text x="527.0" y="129.7" text-anchor="end" font-family="Liberation Sans, sans-serif" font-weight="bold" font-size="12" fill="#180e3a">0.20</text>
<text x="529.5" y="158.2" text-anchor="end" font-family="Liberation Sans, sans-serif" font-weight="bold" font-size="12" fill="#180e3a">0.15</text>
<text x="530.8" y="188.3" text-anchor="end" font-family="Liberation Sans, sans-serif" font-weight="bold" font-size="12" fill="#180e3a">0.10</text>
<text x="532.2" y="217.3" text-anchor="end" font-family="Liberation Sans, sans-serif" font-weight="bold" font-size="12" fill="#180e3a">0.05</text>
<text x="534.4" y="247.0" text-anchor="end" font-family="Liberation Sans, sans-serif" font-weight="bold" font-size="12" fill="#180e3a">0.00</text>
<text x="548.8" y="261.8" text-anchor="middle" font-family="Liberation Sans, sans-serif" font-weight="bold" font-size="12" fill="#180e3a">20</text>
<text x="570.5" y="270.4" text-anchor="middle" font-family="Liberation Sans, sans-serif" font-weight="bold" font-size="12" fill="#180e3a">40</text>
<text x="591.5" y="280.0" text-anchor="middle" font-family="Liberation Sans, sans-serif" font-weight="bold" font-size="12" fill="#180e3a">60</text>
<text x="614.5" y="290.3" text-anchor="middle" font-family="Liberation Sans, sans-serif" font-weight="bold" font-size="12" fill="#180e3a">80</text>
<text x="637.5" y="303.0" text-anchor="middle" font-family="Liberation Sans, sans-serif" font-weight="bold" font-size="12" fill="#180e3a">100</text>
<text x="665.4" y="314.5" text-anchor="middle" font-family="Liberation Sans, sans-serif" font-weight="bold" font-size="12" fill="#180e3a">120</text>
<text x="825.3" y="247.5" text-anchor="middle" font-family="Liberation Sans, sans-serif" font-weight="bold" font-size="12" fill="#180e3a">100</text>
<text x="804.5" y="259.0" text-anchor="middle" font-family="Liberation Sans, sans-serif" font-weight="bold" font-size="12" fill="#180e3a">80</text>
<text x="785.5" y="272.4" text-anchor="middle" font-family="Liberation Sans, sans-serif" font-weight="bold" font-size="12" fill="#180e3a">60</text>
<text x="764.0" y="288.2" text-anchor="middle" font-family="Liberation Sans, sans-serif" font-weight="bold" font-size="12" fill="#180e3a">40</text>
<text x="741.0" y="303.5" text-anchor="middle" font-family="Liberation Sans, sans-serif" font-weight="bold" font-size="12" fill="#180e3a">20</text>
<path d="M632,314.5 L662,326.5 L665.3,322.5 L684,345.5 L655,345.5 L657.5,339 L628.5,324 Z" fill="url(#orG1)"/>
<path d="M771.5,295.5 L739.6,316 L735.4,311.2 L720.9,336.5 L749.9,331.1 L746.9,326.3 L778.8,303.4 Z" fill="url(#orG2)"/>
<text transform="translate(503,241) rotate(-92.6)" font-family="Liberation Sans, sans-serif" font-weight="bold" font-size="13.45" fill="#111">Proton conductivity (S/cm)</text>
<text transform="translate(537,282) rotate(23.5)" font-family="Liberation Sans, sans-serif" font-size="14.5" fill="#111" stroke="#111" stroke-width="0.35">Temperature (<tspan font-size="9" dy="-5">o</tspan><tspan dy="5">C)</tspan></text>
<text transform="translate(761,314) rotate(-32)" font-family="Liberation Sans, sans-serif" font-size="14.5" fill="#111" stroke="#111" stroke-width="0.35">Humidity (%)</text>
<polygon points="727.8,119.1 730.5,122.5 727.8,125.9 725.1,122.5" fill="#fff" stroke="#000" stroke-width="1.2"/>
<circle cx="716.0" cy="131.0" r="2.9" fill="#fff" stroke="#000" stroke-width="1.2"/>
<polygon points="762.0,123.4 762.9,125.8 765.4,125.9 763.5,127.5 764.1,129.9 762.0,128.5 759.9,129.9 760.5,127.5 758.6,125.9 761.1,125.8" fill="#fff" stroke="#000" stroke-width="0.8"/>
<polygon points="777.5,142.4 778.4,144.8 780.9,144.9 779.0,146.5 779.6,148.9 777.5,147.5 775.4,148.9 776.0,146.5 774.1,144.9 776.6,144.8" fill="#000" stroke="#000" stroke-width="0.8"/>
<polygon points="744.6,133.6 751.4,133.6 748.0,139.1" fill="#fff" stroke="#000" stroke-width="1.2"/>
<polygon points="740.7,57.3 743.9,59.6 742.7,63.5 738.7,63.5 737.5,59.6" fill="#fff" stroke="#000" stroke-width="1.2"/>
<polygon points="685.0,106.6 688.2,108.9 687.0,112.8 683.0,112.8 681.8,108.9" fill="#fff" stroke="#000" stroke-width="1.2"/>
<circle cx="738.0" cy="111.5" r="2.9" fill="#fff" stroke="#000" stroke-width="1.2"/>
<circle cx="751.5" cy="109.5" r="2.9" fill="#fff" stroke="#000" stroke-width="1.2"/>
<circle cx="763.0" cy="104.8" r="2.9" fill="#fff" stroke="#000" stroke-width="1.2"/>
<polygon points="685.5,136.9 688.7,139.2 687.5,143.1 683.5,143.1 682.3,139.2" fill="#fff" stroke="#000" stroke-width="1.2"/>
<polygon points="680.5,146.0 681.4,148.4 683.9,148.5 682.0,150.1 682.6,152.5 680.5,151.1 678.4,152.5 679.0,150.1 677.1,148.5 679.6,148.4" fill="#000" stroke="#000" stroke-width="0.8"/>
<polygon points="685.5,149.6 688.7,151.9 687.5,155.8 683.5,155.8 682.3,151.9" fill="#fff" stroke="#000" stroke-width="1.2"/>
<circle cx="694.8" cy="153.0" r="2.9" fill="#fff" stroke="#000" stroke-width="1.2"/>
<rect x="700.8" y="140.2" width="5.1" height="5.1" fill="#fff" stroke="#000" stroke-width="1"/><rect x="700.8" y="140.2" width="5.1" height="2.5" fill="#000"/>
<circle cx="705.0" cy="144.5" r="2.9" fill="#fff" stroke="#000" stroke-width="1.2"/>
<polygon points="710.9,146.9 717.7,146.9 714.3,141.4" fill="#fff" stroke="#000" stroke-width="1.2"/>
<polygon points="727.0,135.0 727.9,137.4 730.4,137.5 728.5,139.1 729.1,141.5 727.0,140.1 724.9,141.5 725.5,139.1 723.6,137.5 726.1,137.4" fill="#000" stroke="#000" stroke-width="0.8"/>
<polygon points="727.6,141.3 734.4,141.3 731.0,146.8" fill="#fff" stroke="#000" stroke-width="1.2"/>
<polygon points="738.0,135.2 741.2,137.5 740.0,141.4 736.0,141.4 734.8,137.5" fill="#fff" stroke="#000" stroke-width="1.2"/>
<circle cx="738.0" cy="146.2" r="2.9" fill="#fff" stroke="#000" stroke-width="1.2"/>
<polygon points="707.6,151.6 714.4,151.6 711.0,157.1" fill="#000" stroke="#000" stroke-width="1.2"/>
<polygon points="718.6,148.9 725.4,148.9 722.0,154.4" fill="#000" stroke="#000" stroke-width="1.2"/>
<polygon points="729.6,150.6 736.4,150.6 733.0,156.1" fill="#000" stroke="#000" stroke-width="1.2"/>
<polygon points="697.4,155.6 704.2,155.6 700.8,161.1" fill="#000" stroke="#000" stroke-width="1.2"/>
<polygon points="700.6,153.1 707.4,153.1 704.0,158.6" fill="#fff" stroke="#000" stroke-width="1.2"/>
<rect x="677.1" y="156.4" width="5.1" height="5.1" fill="#fff" stroke="#000" stroke-width="1"/>
<rect x="692.2" y="158.0" width="5.1" height="5.1" fill="#fff" stroke="#000" stroke-width="1"/>
<rect x="682.2" y="157.2" width="5.1" height="5.1" fill="#fff" stroke="#000" stroke-width="1"/>
<polygon points="679.6,162.4 686.4,162.4 683.0,167.9" fill="#fff" stroke="#000" stroke-width="1.2"/>
<rect x="688.1" y="166.4" width="5.1" height="5.1" fill="#fff" stroke="#000" stroke-width="1"/><rect x="688.1" y="166.4" width="5.1" height="2.5" fill="#000"/>
<rect x="668.5" y="165.6" width="5.1" height="5.1" fill="#fff" stroke="#000" stroke-width="1"/><rect x="668.5" y="165.6" width="5.1" height="2.5" fill="#000"/>
<rect x="713.5" y="163.9" width="5.1" height="5.1" fill="#fff" stroke="#000" stroke-width="1"/>
<rect x="708.5" y="167.4" width="5.1" height="5.1" fill="#fff" stroke="#000" stroke-width="1"/><rect x="708.5" y="167.4" width="5.1" height="2.5" fill="#000"/>
<polygon points="727.8,169.7 728.7,172.1 731.2,172.2 729.3,173.8 729.9,176.2 727.8,174.8 725.7,176.2 726.3,173.8 724.4,172.2 726.9,172.1" fill="#000" stroke="#000" stroke-width="0.8"/>
<rect x="729.5" y="166.8" width="5.1" height="5.1" fill="#fff" stroke="#000" stroke-width="1"/><rect x="729.5" y="166.8" width="5.1" height="2.5" fill="#000"/>
<polygon points="692.3,179.1 699.1,179.1 695.7,173.6" fill="#fff" stroke="#000" stroke-width="1.2"/>
<polygon points="674.6,171.6 674.6,178.4 680.1,175.0" fill="#000" stroke="#000" stroke-width="1.2"/>
<circle cx="702.5" cy="186.8" r="2.7" fill="#000"/>
<circle cx="717.7" cy="185.0" r="2.7" fill="#000"/>
<circle cx="734.6" cy="180.0" r="2.7" fill="#000"/>
<rect x="733.8" y="182.4" width="5.1" height="5.1" fill="#fff" stroke="#000" stroke-width="1"/>
<polygon points="741.3,160.1 748.1,160.1 744.7,165.6" fill="#000" stroke="#000" stroke-width="1.2"/>
<polygon points="754.0,165.2 760.8,165.2 757.4,170.7" fill="#000" stroke="#000" stroke-width="1.2"/>
<rect x="747.2" y="165.0" width="5.1" height="5.1" fill="#fff" stroke="#000" stroke-width="1"/>
<circle cx="752.3" cy="178.6" r="2.7" fill="#000"/>
<polygon points="744.4,188.6 744.4,195.4 738.9,192.0" fill="#fff" stroke="#000" stroke-width="1.2"/>
<polygon points="716.4,194.6 716.4,201.4 710.9,198.0" fill="#000" stroke="#000" stroke-width="1.2"/>
<polygon points="727.4,196.4 727.4,203.2 721.9,199.8" fill="#000" stroke="#000" stroke-width="1.2"/>
<polygon points="738.4,197.2 738.4,204.0 732.9,200.6" fill="#000" stroke="#000" stroke-width="1.2"/>
<rect x="780.2" y="211.4" width="5.1" height="5.1" fill="#fff" stroke="#000" stroke-width="1"/>
<polygon points="626.6,215.9 629.7,219.0 626.6,222.1 623.5,219.0" fill="#000"/>
<circle cx="638.5" cy="213.7" r="2.7" fill="#000"/>
<circle cx="649.0" cy="208.4" r="2.7" fill="#000"/>
<polygon points="659.6,195.4 662.7,198.5 659.6,201.6 656.5,198.5" fill="#000"/>
<polygon points="669.4,185.1 669.4,191.9 663.9,188.5" fill="#000" stroke="#000" stroke-width="1.2"/>
<polygon points="677.4,185.8 677.4,192.6 671.9,189.2" fill="#000" stroke="#000" stroke-width="1.2"/>
<polygon points="674.6,171.9 674.6,178.7 680.1,175.3" fill="#000" stroke="#000" stroke-width="1.2"/>
<polygon points="677.2,179.8 677.2,186.6 682.7,183.2" fill="#000" stroke="#000" stroke-width="1.2"/>
<polygon points="685.3,187.8 685.3,194.6 679.8,191.2" fill="#000" stroke="#000" stroke-width="1.2"/>
<polygon points="695.9,190.5 695.9,197.3 690.4,193.9" fill="#000" stroke="#000" stroke-width="1.2"/>
<polygon points="706.8,192.0 706.8,198.8 701.3,195.4" fill="#000" stroke="#000" stroke-width="1.2"/>
<polygon points="692.8,179.0 699.6,179.0 696.2,173.5" fill="#fff" stroke="#000" stroke-width="1.2"/>
<circle cx="702.1" cy="187.2" r="2.7" fill="#000"/>
<circle cx="674.3" cy="201.2" r="2.9" fill="#fff" stroke="#000" stroke-width="1.2"/>
<polygon points="671.6,209.5 678.4,209.5 675.0,204.0" fill="#fff" stroke="#000" stroke-width="1.2"/>
<polygon points="705.6,189.6 705.6,196.4 711.1,193.0" fill="#fff" stroke="#000" stroke-width="1.2"/>
<polygon points="705.6,195.6 705.6,202.4 711.1,199.0" fill="#fff" stroke="#000" stroke-width="1.2"/>
<polygon points="705.6,202.1 705.6,208.9 711.1,205.5" fill="#fff" stroke="#000" stroke-width="1.2"/>
<polygon points="683.4,213.6 683.4,220.4 688.9,217.0" fill="#fff" stroke="#000" stroke-width="1.2"/>
<polygon points="683.4,219.6 683.4,226.4 688.9,223.0" fill="#fff" stroke="#000" stroke-width="1.2"/>
<polygon points="697.7,222.2 698.6,224.6 701.1,224.7 699.2,226.3 699.8,228.7 697.7,227.3 695.6,228.7 696.2,226.3 694.3,224.7 696.8,224.6" fill="#fff" stroke="#000" stroke-width="0.8"/>
<polygon points="674.0,234.1 674.9,236.5 677.4,236.6 675.5,238.2 676.1,240.6 674.0,239.2 671.9,240.6 672.5,238.2 670.6,236.6 673.1,236.5" fill="#000" stroke="#000" stroke-width="0.8"/>
<polygon points="721.5,247.4 722.4,249.8 724.9,249.9 723.0,251.5 723.6,253.9 721.5,252.5 719.4,253.9 720.0,251.5 718.1,249.9 720.6,249.8" fill="#000" stroke="#000" stroke-width="0.8"/>
<polygon points="733.6,222.6 733.6,229.4 739.1,226.0" fill="#fff" stroke="#000" stroke-width="1.2"/>
<polygon points="733.6,228.1 733.6,234.9 739.1,231.5" fill="#fff" stroke="#000" stroke-width="1.2"/>
<polygon points="733.6,233.6 733.6,240.4 739.1,237.0" fill="#fff" stroke="#000" stroke-width="1.2"/>
<polygon points="646.6,247.1 646.6,253.9 652.1,250.5" fill="#fff" stroke="#000" stroke-width="1.2"/>
<polygon points="646.6,252.6 646.6,259.4 652.1,256.0" fill="#fff" stroke="#000" stroke-width="1.2"/>
<polygon points="697.3,267.6 697.3,274.4 702.8,271.0" fill="#fff" stroke="#000" stroke-width="1.2"/>
<polygon points="697.3,272.6 697.3,279.4 702.8,276.0" fill="#000" stroke="#000" stroke-width="1.2"/>
<polygon points="755.6,181.1 755.6,187.9 761.1,184.5" fill="#fff" stroke="#000" stroke-width="1.2"/>
<polygon points="755.6,187.1 755.6,193.9 761.1,190.5" fill="#fff" stroke="#000" stroke-width="1.2"/>
<polygon points="755.6,193.1 755.6,199.9 761.1,196.5" fill="#fff" stroke="#000" stroke-width="1.2"/>
<polygon points="755.6,199.1 755.6,205.9 761.1,202.5" fill="#fff" stroke="#000" stroke-width="1.2"/>
<polygon points="755.6,205.1 755.6,211.9 761.1,208.5" fill="#fff" stroke="#000" stroke-width="1.2"/>
<polygon points="755.6,210.6 755.6,217.4 761.1,214.0" fill="#fff" stroke="#000" stroke-width="1.2"/>
<circle cx="706.0" cy="79.8" r="4.7" fill="url(#redG)"/>
<circle cx="728.0" cy="80.4" r="4.7" fill="url(#redG)"/>
<circle cx="752.0" cy="79.4" r="4.7" fill="url(#redG)"/>
<circle cx="685.0" cy="94.5" r="4.7" fill="url(#redG)"/>
<circle cx="680.7" cy="103.8" r="4.7" fill="url(#redG)"/>
<circle cx="697.7" cy="239.5" r="4.6" fill="url(#redG)"/><circle cx="697.7" cy="236.5" r="4.6" fill="url(#bluG)"/>
<text x="502" y="333.5" font-family="Liberation Sans, sans-serif" font-weight="bold" font-size="23" fill="#111">(c)</text>
<g opacity="0.35" transform="translate(1.2,1.5)"><text transform="translate(676,371) rotate(-9.7)" font-family="Liberation Sans, sans-serif" font-weight="bold" font-size="20.5" fill="#c0a080" stroke="#c0a080" stroke-width="1.5">Severe</text><text transform="translate(666.5,397) rotate(-9.9)" font-family="Liberation Sans, sans-serif" font-weight="bold" font-size="20.5" fill="#c0a080" stroke="#c0a080" stroke-width="1.5">conditions</text></g>
<text transform="translate(676,371) rotate(-9.7)" font-family="Liberation Sans, sans-serif" font-weight="bold" font-size="20.5" fill="url(#sevG)" stroke="#e0902c" stroke-width="0.9" paint-order="stroke">Severe</text>
<text transform="translate(666.5,397) rotate(-9.9)" font-family="Liberation Sans, sans-serif" font-weight="bold" font-size="20.5" fill="url(#sevG)" stroke="#e0902c" stroke-width="0.9" paint-order="stroke">conditions</text>
</svg></body></html>
